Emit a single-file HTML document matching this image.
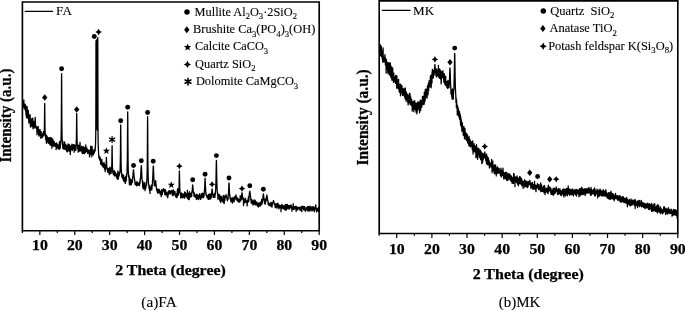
<!DOCTYPE html>
<html><head><meta charset="utf-8"><title>XRD patterns</title>
<style>html,body{margin:0;padding:0;background:#fff;}body{width:685px;height:310px;overflow:hidden;position:relative;font-family:"Liberation Serif",serif;}</style>
</head><body>
<svg width="685" height="310" viewBox="0 0 685 310" style="display:block;position:absolute;left:0;top:0">
<rect width="685" height="310" fill="#fff"/>
<path d="M22.4,230.7 L22.4,1.95 L319.2,1.95 L319.2,230.7 Z" fill="none" stroke="#000" stroke-width="1.65"/><path d="M22.40,230.7 v2.3 M39.86,230.7 v4.4 M57.32,230.7 v2.3 M74.78,230.7 v4.4 M92.24,230.7 v2.3 M109.69,230.7 v4.4 M127.15,230.7 v2.3 M144.61,230.7 v4.4 M162.07,230.7 v2.3 M179.53,230.7 v4.4 M196.99,230.7 v2.3 M214.45,230.7 v4.4 M231.91,230.7 v2.3 M249.36,230.7 v4.4 M266.82,230.7 v2.3 M284.28,230.7 v4.4 M301.74,230.7 v2.3 M319.20,230.7 v4.4 " stroke="#000" stroke-width="1.2" fill="none"/>
<path d="M379.2,233.5 L379.2,0.8 L677.8,0.8 L677.8,233.5 Z" fill="none" stroke="#000" stroke-width="1.65"/><path d="M379.20,233.5 v2.3 M396.76,233.5 v4.4 M414.33,233.5 v2.3 M431.89,233.5 v4.4 M449.46,233.5 v2.3 M467.02,233.5 v4.4 M484.59,233.5 v2.3 M502.15,233.5 v4.4 M519.72,233.5 v2.3 M537.28,233.5 v4.4 M554.85,233.5 v2.3 M572.41,233.5 v4.4 M589.98,233.5 v2.3 M607.54,233.5 v4.4 M625.11,233.5 v2.3 M642.67,233.5 v4.4 M660.24,233.5 v2.3 M677.80,233.5 v4.4 " stroke="#000" stroke-width="1.2" fill="none"/>
<path d="M22.70,107.32 22.86,101.29 23.03,103.19 23.19,104.73 23.36,101.57 23.52,104.34 23.69,104.75 23.85,99.95 24.02,108.60 24.18,107.77 24.35,104.54 24.51,106.30 24.68,108.71 24.84,106.85 25.01,107.31 25.17,104.15 25.33,110.48 25.50,109.62 25.66,110.46 25.83,105.57 25.99,115.31 26.16,111.32 26.32,110.15 26.49,117.65 26.65,112.00 26.82,108.31 26.98,111.80 27.15,106.73 27.31,116.91 27.47,113.06 27.64,112.54 27.80,118.25 27.97,110.75 28.13,117.52 28.30,110.38 28.46,114.85 28.63,113.67 28.79,121.77 28.96,123.01 29.12,117.30 29.29,121.02 29.45,118.39 29.62,120.86 29.78,117.34 29.94,114.87 30.11,114.87 30.27,121.42 30.44,127.02 30.60,121.59 30.77,119.55 30.93,126.76 31.10,122.20 31.26,122.03 31.43,122.68 31.59,121.80 31.76,121.50 31.92,118.50 32.08,124.22 32.25,122.73 32.41,126.58 32.58,122.35 32.74,118.20 32.91,123.51 33.07,128.75 33.24,123.11 33.40,121.92 33.57,121.35 33.73,122.01 33.90,124.11 34.06,122.39 34.23,127.86 34.39,124.61 34.55,125.10 34.70,126.02 34.72,125.97 34.88,123.37 34.90,123.53 35.04,121.06 35.05,120.38 35.13,117.45 35.20,117.57 35.21,117.73 35.27,118.56 35.36,120.64 35.38,121.48 35.50,123.67 35.54,124.37 35.70,127.07 35.71,127.35 35.87,127.44 36.04,127.94 36.20,128.71 36.37,127.70 36.53,127.83 36.69,126.59 36.86,128.39 37.02,134.83 37.19,131.39 37.35,128.34 37.52,128.23 37.68,127.39 37.85,131.02 38.01,131.29 38.18,126.50 38.34,132.01 38.51,129.35 38.67,135.01 38.84,131.76 39.00,136.22 39.16,130.50 39.33,131.17 39.49,132.96 39.66,135.20 39.82,134.06 39.99,129.38 40.15,133.39 40.32,133.14 40.48,132.10 40.65,131.69 40.81,138.30 40.98,132.73 41.14,131.68 41.31,135.82 41.47,134.63 41.63,134.24 41.80,136.68 41.96,136.05 42.13,135.86 42.29,137.60 42.46,135.93 42.62,133.70 42.79,134.49 42.95,134.21 43.12,136.12 43.28,133.12 43.45,131.66 43.61,135.70 43.77,133.04 43.94,132.09 44.10,134.08 44.20,131.91 44.27,131.66 44.40,126.66 44.43,124.62 44.54,116.31 44.60,110.47 44.63,107.32 44.70,103.47 44.76,106.77 44.77,106.94 44.86,117.16 44.93,122.19 45.00,127.40 45.09,131.51 45.20,134.40 45.26,135.96 45.42,133.89 45.59,138.00 45.75,139.64 45.92,139.87 46.08,136.06 46.24,139.41 46.41,143.24 46.57,135.11 46.74,140.27 46.90,142.08 47.07,137.62 47.23,141.06 47.40,136.97 47.56,137.78 47.73,137.91 47.89,140.64 48.06,140.06 48.22,142.87 48.38,138.16 48.55,140.36 48.71,143.28 48.88,142.39 49.04,137.72 49.21,142.92 49.37,140.14 49.54,142.46 49.70,142.37 49.87,144.82 50.03,142.15 50.20,137.28 50.36,138.63 50.53,144.05 50.69,141.66 50.85,145.30 51.02,143.22 51.18,140.75 51.35,145.46 51.51,140.81 51.68,137.78 51.84,148.21 52.01,138.34 52.17,144.82 52.34,145.67 52.50,143.78 52.67,139.30 52.83,146.13 53.00,140.09 53.16,140.43 53.32,142.96 53.49,145.91 53.65,144.78 53.82,146.13 53.98,143.10 54.15,143.86 54.31,141.55 54.48,143.66 54.64,145.99 54.81,143.86 54.97,145.86 55.14,143.35 55.30,143.38 55.46,145.02 55.63,144.52 55.79,146.54 55.96,145.60 56.12,149.51 56.29,144.79 56.45,144.85 56.62,142.94 56.78,145.62 56.95,147.31 57.11,143.91 57.28,145.67 57.44,147.61 57.61,145.62 57.77,144.73 57.93,148.41 58.10,146.34 58.26,147.11 58.43,149.03 58.59,148.99 58.76,145.41 58.92,144.99 59.09,146.95 59.25,145.93 59.42,141.67 59.58,149.18 59.75,146.11 59.91,147.61 60.07,143.15 60.24,148.12 60.40,143.90 60.57,144.20 60.73,141.35 60.90,141.38 61.06,137.96 61.10,136.81 61.23,130.92 61.30,124.49 61.39,112.15 61.44,101.98 61.53,81.07 61.56,76.68 61.60,73.61 61.67,81.91 61.72,93.58 61.76,101.50 61.89,123.21 61.90,125.32 62.05,135.18 62.10,136.69 62.22,140.56 62.38,142.12 62.54,145.17 62.71,145.01 62.87,148.37 63.04,147.06 63.20,144.67 63.37,147.89 63.53,148.85 63.70,145.47 63.86,145.90 64.03,141.54 64.19,149.22 64.36,145.75 64.52,142.16 64.68,143.05 64.85,146.77 65.01,149.14 65.18,147.16 65.34,148.52 65.51,144.82 65.67,144.28 65.84,149.58 66.00,148.67 66.17,147.46 66.33,150.58 66.50,145.33 66.66,146.60 66.83,150.03 66.99,151.96 67.15,147.66 67.32,151.62 67.48,146.25 67.65,148.47 67.81,147.29 67.98,143.98 68.14,148.34 68.31,149.94 68.47,147.41 68.64,147.61 68.80,151.06 68.97,144.86 69.13,144.29 69.30,146.29 69.46,145.02 69.62,151.00 69.79,148.58 69.95,145.84 70.12,146.44 70.28,154.59 70.45,146.47 70.61,146.13 70.78,148.64 70.94,149.43 71.11,148.47 71.27,145.84 71.44,145.27 71.60,149.37 71.76,147.87 71.93,144.18 72.09,150.75 72.26,149.83 72.42,147.48 72.59,147.44 72.75,148.60 72.92,146.47 73.08,144.94 73.25,148.83 73.41,144.75 73.58,149.00 73.74,144.75 73.91,147.87 74.07,147.78 74.23,152.22 74.40,145.62 74.56,144.81 74.73,146.56 74.89,145.47 75.06,146.63 75.22,148.71 75.39,149.20 75.55,150.44 75.72,145.99 75.88,150.03 76.05,147.63 76.20,143.61 76.21,141.84 76.37,138.95 76.40,137.88 76.54,126.38 76.54,127.27 76.63,117.31 76.70,113.28 76.70,113.79 76.77,117.76 76.86,127.11 76.87,128.31 77.00,137.62 77.03,139.04 77.20,143.99 77.20,144.37 77.36,145.32 77.53,144.03 77.69,148.46 77.86,145.08 78.02,148.44 78.19,152.10 78.35,148.51 78.52,146.03 78.68,145.48 78.84,151.53 79.01,148.91 79.17,150.26 79.34,151.21 79.50,149.04 79.67,148.51 79.83,147.10 80.00,142.28 80.16,145.91 80.33,149.27 80.49,149.08 80.66,150.46 80.82,149.30 80.99,150.00 81.15,151.48 81.31,147.72 81.48,149.13 81.64,146.17 81.81,152.09 81.97,150.02 82.14,151.09 82.30,153.53 82.47,152.53 82.63,149.99 82.80,151.96 82.96,146.97 83.13,151.25 83.29,150.63 83.45,146.69 83.62,153.44 83.78,148.86 83.95,152.05 84.11,149.60 84.28,152.84 84.44,153.61 84.61,148.82 84.77,147.28 84.94,150.49 85.10,152.75 85.27,150.04 85.43,149.54 85.60,152.07 85.76,144.79 85.92,149.56 86.09,147.98 86.25,151.81 86.42,149.53 86.58,148.72 86.75,150.48 86.91,148.02 87.08,151.33 87.24,149.87 87.41,150.59 87.57,149.88 87.74,153.57 87.90,151.32 88.06,152.79 88.23,152.73 88.39,149.89 88.56,153.01 88.72,152.56 88.89,152.52 89.05,150.97 89.22,150.95 89.38,153.70 89.55,156.86 89.71,150.18 89.88,153.27 90.04,151.30 90.21,153.91 90.37,153.18 90.53,154.60 90.70,146.07 90.86,150.98 91.03,150.16 91.19,152.16 91.36,150.82 91.52,151.04 91.69,154.01 91.85,156.74 92.02,146.29 92.18,151.88 92.35,153.28 92.51,152.61 92.67,151.83 92.84,149.60 93.00,150.49 93.17,154.16 93.33,154.90 93.50,152.69 93.66,150.58 93.83,152.54 93.99,151.70 94.16,153.24 94.32,152.12 94.49,150.36 94.65,151.61 94.82,148.74 94.98,151.34 95.14,150.64 95.31,146.61 95.47,145.66 95.64,140.00 95.75,132.95 95.80,125.37 95.85,113.99 95.92,82.31 95.97,52.44 95.97,50.73 96.00,40.69 96.03,51.50 96.08,79.71 96.13,104.36 96.15,109.57 96.25,125.31 96.30,128.02 96.46,128.86 96.63,121.98 96.65,120.33 96.75,104.10 96.79,89.83 96.82,75.47 96.87,49.47 96.90,39.49 96.94,49.28 96.96,61.58 96.98,75.78 97.05,104.18 97.12,117.60 97.15,120.59 97.29,128.60 97.45,130.50 97.55,126.17 97.61,118.04 97.65,109.68 97.72,78.42 97.77,48.67 97.78,42.31 97.80,37.75 97.83,49.99 97.88,81.08 97.94,112.75 97.95,115.04 98.05,134.39 98.11,140.80 98.27,147.05 98.44,150.25 98.60,153.38 98.77,156.55 98.93,157.81 99.10,155.69 99.26,157.84 99.43,158.31 99.59,159.69 99.75,159.64 99.92,157.54 100.08,157.28 100.25,160.76 100.41,158.20 100.58,164.04 100.74,161.53 100.91,159.57 101.07,161.40 101.24,161.31 101.40,162.42 101.57,165.02 101.73,160.18 101.90,159.55 102.06,164.55 102.22,163.71 102.39,164.70 102.55,165.55 102.72,164.45 102.88,166.78 103.05,163.39 103.21,165.66 103.38,163.96 103.54,163.52 103.71,167.43 103.87,167.51 104.04,162.35 104.20,164.26 104.36,167.39 104.53,169.14 104.69,165.71 104.86,166.82 105.02,164.68 105.19,171.65 105.35,168.14 105.52,168.56 105.68,167.96 105.85,167.65 105.90,167.13 106.01,165.77 106.10,165.24 106.18,163.41 106.24,161.97 106.33,158.07 106.34,157.81 106.40,157.30 106.47,158.83 106.51,159.75 106.56,161.49 106.67,164.75 106.70,165.13 106.83,168.20 106.90,168.13 107.00,169.08 107.16,168.87 107.33,168.14 107.49,170.98 107.66,172.22 107.82,170.61 107.99,169.64 108.15,172.00 108.32,169.20 108.48,171.67 108.65,168.73 108.81,168.30 108.98,171.61 109.14,171.24 109.30,174.61 109.47,170.16 109.63,170.88 109.80,168.56 109.96,167.15 110.13,167.44 110.29,172.07 110.46,168.88 110.62,173.31 110.79,173.68 110.95,170.64 111.12,173.26 111.28,170.85 111.44,170.95 111.60,168.43 111.61,169.13 111.77,164.59 111.80,164.43 111.94,156.05 111.94,156.07 112.03,148.81 112.10,145.77 112.10,145.71 112.17,148.92 112.26,156.58 112.27,156.44 112.40,164.75 112.43,165.98 112.60,168.62 112.60,169.44 112.76,169.49 112.93,173.27 113.09,171.77 113.26,172.34 113.42,174.83 113.59,172.69 113.75,174.29 113.91,171.21 114.08,172.28 114.24,170.73 114.41,173.26 114.57,175.90 114.74,174.36 114.90,175.81 115.07,172.01 115.23,172.41 115.40,173.35 115.56,175.56 115.73,175.21 115.89,174.55 116.05,175.93 116.22,174.45 116.38,174.80 116.55,177.57 116.71,173.82 116.88,175.46 117.04,178.43 117.21,175.44 117.37,176.73 117.54,174.15 117.70,179.38 117.87,170.95 118.03,173.24 118.20,173.44 118.36,178.83 118.52,176.29 118.69,175.04 118.85,173.01 119.02,176.11 119.18,175.47 119.35,173.81 119.51,172.24 119.68,172.42 119.84,173.18 120.01,171.39 120.08,170.00 120.17,167.55 120.33,160.28 120.34,160.59 120.50,145.16 120.50,145.51 120.61,131.06 120.66,126.05 120.70,124.96 120.79,131.32 120.83,136.51 120.90,145.52 120.99,154.43 121.08,161.59 121.16,166.16 121.32,171.53 121.33,170.03 121.49,172.42 121.65,174.03 121.82,176.84 121.98,174.27 122.15,176.51 122.31,175.35 122.48,177.89 122.64,174.58 122.81,178.56 122.97,177.01 123.13,177.70 123.30,179.33 123.46,180.68 123.63,175.14 123.79,180.61 123.96,179.82 124.12,178.21 124.29,181.66 124.45,179.31 124.62,181.56 124.78,177.86 124.95,177.35 125.11,181.51 125.28,183.37 125.44,180.32 125.60,180.77 125.77,178.02 125.93,176.28 126.10,178.19 126.26,180.95 126.43,174.78 126.59,176.41 126.76,173.57 126.92,174.30 127.08,171.92 127.09,169.86 127.25,164.19 127.33,160.23 127.42,150.68 127.50,138.26 127.58,124.24 127.61,118.67 127.70,112.01 127.74,113.73 127.79,119.70 127.90,139.20 127.91,140.19 128.07,159.54 128.07,160.28 128.24,169.09 128.32,171.97 128.40,171.99 128.57,177.15 128.73,176.40 128.90,175.06 129.06,178.27 129.23,180.60 129.39,184.15 129.56,179.80 129.72,178.17 129.89,185.11 130.05,181.43 130.21,180.73 130.38,179.24 130.54,179.47 130.71,184.42 130.87,181.02 131.04,180.52 131.20,180.58 131.37,184.61 131.53,180.35 131.70,182.57 131.86,181.71 132.00,181.44 132.03,179.42 132.19,181.72 132.35,182.56 132.52,179.35 132.60,177.85 132.68,176.98 132.85,177.15 133.01,174.89 133.02,174.91 133.18,172.75 133.29,170.67 133.34,170.87 133.50,169.85 133.51,169.77 133.67,170.99 133.71,171.73 133.84,173.27 133.98,174.86 134.00,176.47 134.17,177.33 134.33,178.42 134.40,177.85 134.50,180.37 134.66,179.60 134.82,180.95 134.99,183.10 135.00,182.39 135.15,184.56 135.32,183.57 135.48,182.47 135.65,182.82 135.81,182.65 135.98,185.05 136.14,183.97 136.31,183.25 136.47,185.80 136.64,184.43 136.80,183.42 136.97,181.45 137.13,185.32 137.29,184.98 137.46,184.66 137.62,183.75 137.79,183.00 137.95,184.20 138.12,185.10 138.28,184.39 138.45,184.33 138.61,183.66 138.78,185.17 138.94,184.88 139.11,182.85 139.27,185.59 139.43,185.41 139.60,185.13 139.76,183.00 139.80,182.79 139.93,180.74 140.09,183.15 140.26,178.03 140.40,179.35 140.42,179.20 140.59,178.47 140.75,175.02 140.82,173.10 140.92,170.93 141.08,167.88 141.09,168.02 141.25,165.96 141.30,165.73 141.41,166.29 141.51,168.03 141.58,169.87 141.74,172.50 141.78,174.01 141.90,177.65 142.07,179.41 142.20,179.79 142.23,181.49 142.40,180.92 142.56,183.00 142.73,186.40 142.80,187.33 142.89,181.23 143.06,186.05 143.22,188.80 143.39,184.37 143.55,186.14 143.72,188.75 143.88,185.07 144.04,187.03 144.21,186.17 144.37,182.67 144.54,187.13 144.70,186.17 144.87,188.36 145.03,190.62 145.20,187.92 145.36,185.88 145.53,187.39 145.69,186.83 145.86,188.19 146.02,183.51 146.19,183.76 146.35,182.02 146.51,185.33 146.68,183.22 146.84,180.54 146.97,177.82 147.01,177.01 147.17,169.55 147.22,166.18 147.34,154.09 147.40,145.21 147.50,126.34 147.51,124.35 147.60,116.62 147.67,122.00 147.69,124.80 147.80,145.00 147.83,150.34 147.97,167.45 148.00,167.69 148.16,176.39 148.22,177.53 148.33,181.74 148.49,183.25 148.65,184.26 148.82,184.98 148.98,187.99 149.15,187.07 149.31,186.71 149.48,190.29 149.64,186.19 149.81,185.93 149.97,193.40 150.14,187.84 150.30,187.57 150.47,187.25 150.63,188.37 150.80,190.09 150.96,189.96 151.12,189.45 151.29,187.74 151.45,185.27 151.62,188.23 151.78,189.95 151.93,188.59 151.95,186.44 152.11,187.13 152.28,184.28 152.44,183.14 152.48,181.47 152.61,180.63 152.77,177.78 152.86,175.41 152.94,173.80 153.10,169.50 153.11,169.12 153.27,166.01 153.30,165.79 153.43,167.04 153.49,168.27 153.59,171.33 153.74,175.55 153.76,175.91 153.92,179.52 154.09,182.03 154.10,181.90 154.12,181.59 154.25,185.39 154.42,185.73 154.58,184.05 154.68,184.18 154.70,184.53 154.75,185.15 154.91,185.80 155.08,184.57 155.12,184.26 155.24,183.20 155.39,181.90 155.41,181.65 155.57,180.91 155.60,180.76 155.73,180.87 155.81,182.02 155.90,183.77 156.06,184.48 156.08,184.58 156.23,187.16 156.39,187.60 156.50,187.55 156.56,190.34 156.72,189.95 156.89,190.75 157.05,188.98 157.10,190.89 157.22,190.91 157.38,191.91 157.55,192.83 157.71,192.98 157.88,191.34 158.04,192.45 158.20,189.11 158.37,192.58 158.53,192.75 158.70,190.81 158.86,190.16 159.03,191.57 159.19,189.46 159.36,192.44 159.52,192.41 159.69,190.12 159.85,192.04 160.02,194.00 160.18,194.03 160.34,193.97 160.51,191.83 160.67,191.50 160.84,191.43 161.00,193.30 161.17,196.60 161.33,194.83 161.50,195.14 161.66,194.67 161.83,189.32 161.99,191.81 162.16,191.40 162.25,193.97 162.32,194.50 162.49,191.00 162.65,191.69 162.75,192.00 162.81,190.88 162.98,190.39 163.10,189.95 163.14,190.51 163.31,188.97 163.32,189.58 163.47,188.83 163.50,189.01 163.64,189.58 163.68,189.04 163.80,189.58 163.90,190.65 163.97,190.14 164.13,190.79 164.25,191.60 164.30,191.98 164.46,190.58 164.63,191.80 164.75,193.36 164.79,194.60 164.96,189.35 165.12,195.01 165.28,194.39 165.45,190.89 165.61,190.22 165.78,193.75 165.94,192.25 166.11,193.32 166.27,194.70 166.44,192.45 166.60,193.47 166.77,194.08 166.93,194.87 167.10,196.51 167.26,196.42 167.42,193.74 167.59,192.88 167.75,197.73 167.92,194.54 168.08,194.16 168.25,191.36 168.41,194.84 168.58,191.98 168.74,192.58 168.91,190.97 169.07,192.48 169.24,193.55 169.40,190.70 169.57,191.81 169.73,193.24 169.89,191.22 169.90,191.24 170.06,191.96 170.22,191.15 170.39,193.84 170.50,191.80 170.55,193.70 170.72,193.40 170.88,191.47 170.92,192.16 171.05,191.56 171.19,190.99 171.21,191.21 171.38,191.03 171.40,191.29 171.54,191.58 171.61,191.06 171.71,191.55 171.87,192.55 171.88,192.97 172.03,190.74 172.20,194.32 172.30,192.99 172.36,195.15 172.53,192.87 172.69,192.33 172.86,193.80 172.90,195.70 173.02,193.87 173.19,189.72 173.35,195.19 173.52,191.09 173.68,192.28 173.85,191.98 174.01,190.78 174.18,191.89 174.34,192.41 174.50,193.13 174.67,194.18 174.83,193.70 175.00,191.62 175.16,194.03 175.33,196.17 175.49,196.14 175.66,194.67 175.82,195.58 175.99,196.09 176.15,196.97 176.32,197.59 176.48,193.91 176.64,194.00 176.81,197.19 176.97,197.34 177.14,197.28 177.30,190.23 177.47,194.04 177.63,188.66 177.80,195.55 177.96,194.28 178.13,194.11 178.29,193.59 178.46,194.94 178.62,192.46 178.78,192.49 178.79,192.02 178.95,189.56 179.03,187.86 179.11,184.64 179.20,180.01 179.28,175.75 179.31,173.82 179.40,170.96 179.44,171.93 179.49,173.90 179.60,180.01 179.61,180.87 179.77,187.48 179.78,187.31 179.94,191.11 180.03,191.21 180.10,192.11 180.27,193.64 180.43,194.35 180.60,194.72 180.76,198.01 180.93,193.84 181.09,195.24 181.26,192.79 181.42,195.86 181.58,197.14 181.75,197.32 181.91,194.03 182.08,194.72 182.24,197.55 182.41,195.14 182.57,197.08 182.74,193.62 182.90,197.90 183.07,197.28 183.23,196.29 183.40,194.04 183.56,195.21 183.72,195.79 183.89,196.02 184.05,195.37 184.22,195.18 184.38,195.94 184.55,198.12 184.71,192.01 184.88,193.17 185.04,192.87 185.21,194.43 185.37,192.55 185.54,196.68 185.70,195.87 185.87,195.26 186.03,194.50 186.19,196.01 186.36,196.06 186.52,196.34 186.69,194.45 186.85,196.93 187.02,193.14 187.18,198.02 187.35,190.27 187.51,194.72 187.68,193.64 187.84,197.21 188.01,193.14 188.17,199.05 188.33,193.03 188.50,199.42 188.66,196.59 188.83,195.84 188.99,196.55 189.16,199.68 189.32,197.35 189.49,191.75 189.65,197.85 189.82,196.10 189.98,192.78 190.15,196.97 190.31,193.42 190.48,195.83 190.64,195.84 190.80,194.20 190.97,196.31 191.13,193.35 191.30,195.11 191.45,193.73 191.46,194.24 191.63,196.58 191.79,193.59 191.95,191.63 191.96,192.47 192.12,190.73 192.29,189.41 192.30,189.29 192.45,187.07 192.52,186.06 192.62,184.96 192.70,184.92 192.78,185.38 192.88,185.85 192.95,186.99 193.10,189.27 193.11,190.00 193.27,192.02 193.44,191.96 193.45,192.76 193.60,191.87 193.77,192.91 193.93,194.62 193.95,195.55 194.10,196.41 194.26,194.65 194.43,193.05 194.59,196.17 194.76,195.30 194.92,196.44 195.09,196.05 195.25,197.10 195.41,197.04 195.58,197.42 195.74,195.17 195.91,197.77 196.07,195.16 196.24,196.22 196.40,199.37 196.57,196.75 196.73,194.09 196.90,198.78 197.06,197.94 197.23,198.20 197.39,196.56 197.56,196.83 197.72,195.83 197.88,195.02 198.05,198.95 198.21,195.63 198.38,195.44 198.54,195.52 198.71,199.58 198.87,197.86 199.04,195.68 199.20,196.26 199.37,197.24 199.53,197.89 199.70,193.54 199.86,197.95 200.02,195.99 200.19,195.18 200.35,195.70 200.52,197.77 200.68,199.46 200.85,196.65 201.01,197.36 201.18,194.97 201.34,197.24 201.51,197.81 201.67,193.77 201.84,195.46 202.00,197.72 202.17,193.26 202.33,195.64 202.49,197.30 202.66,193.28 202.82,195.47 202.99,196.18 203.15,197.50 203.32,193.72 203.48,197.50 203.65,195.95 203.81,196.91 203.98,196.27 204.10,194.68 204.14,194.65 204.31,191.47 204.47,190.57 204.50,190.50 204.63,188.88 204.78,186.08 204.80,184.48 204.96,180.49 204.96,180.10 205.10,178.19 205.13,179.08 205.24,180.63 205.29,182.59 205.42,186.23 205.46,186.36 205.62,189.03 205.70,192.75 205.79,191.97 205.95,192.48 206.10,195.25 206.12,194.66 206.28,194.17 206.45,194.98 206.61,196.04 206.78,196.13 206.94,197.44 207.10,195.71 207.27,195.84 207.43,197.54 207.60,197.12 207.76,198.52 207.93,196.27 208.09,196.57 208.26,194.79 208.42,199.38 208.59,194.45 208.75,197.20 208.92,195.35 209.08,197.46 209.25,198.17 209.41,194.10 209.57,196.53 209.74,193.89 209.90,199.25 210.07,196.09 210.23,194.18 210.40,195.60 210.56,198.72 210.73,198.75 210.89,198.11 211.06,195.18 211.10,195.87 211.22,197.45 211.39,194.58 211.50,194.36 211.55,193.66 211.71,192.24 211.78,192.46 211.88,190.83 211.96,189.67 212.04,188.92 212.10,188.86 212.21,189.60 212.24,189.54 212.37,191.22 212.42,191.56 212.54,193.84 212.70,194.20 212.70,193.53 212.87,195.11 213.03,195.85 213.10,196.93 213.20,197.38 213.36,195.28 213.53,195.20 213.69,195.93 213.86,194.49 214.02,196.23 214.18,197.10 214.35,196.27 214.51,193.36 214.68,193.83 214.84,197.40 215.01,193.40 215.17,195.20 215.34,193.94 215.40,192.29 215.50,190.61 215.67,189.47 215.80,185.76 215.83,185.40 216.00,179.44 216.08,174.80 216.16,170.30 216.26,164.48 216.32,161.44 216.40,160.45 216.49,162.13 216.54,164.10 216.65,171.21 216.72,175.07 216.82,179.89 216.98,184.73 217.00,187.08 217.15,190.37 217.31,192.78 217.40,193.35 217.48,192.07 217.64,194.83 217.81,194.03 217.97,199.34 218.14,195.53 218.30,197.78 218.47,194.38 218.63,195.19 218.79,196.43 218.96,198.64 219.12,198.51 219.29,198.18 219.45,194.71 219.62,199.77 219.78,196.42 219.95,200.71 220.11,201.19 220.28,199.52 220.44,199.84 220.61,196.15 220.77,202.58 220.94,198.69 221.10,200.03 221.26,196.98 221.43,198.33 221.59,196.51 221.76,198.11 221.92,198.56 222.09,198.99 222.25,200.90 222.42,199.41 222.58,199.04 222.75,198.72 222.91,201.99 223.08,197.73 223.24,200.65 223.40,195.47 223.57,197.26 223.73,199.38 223.90,198.43 224.06,203.53 224.23,202.74 224.39,196.27 224.56,196.97 224.72,198.26 224.75,200.78 224.89,199.72 225.05,198.47 225.22,196.57 225.25,197.03 225.38,195.53 225.55,195.96 225.60,196.66 225.71,196.16 225.82,194.90 225.87,195.09 226.00,195.20 226.04,194.86 226.18,195.17 226.20,195.58 226.37,196.49 226.40,196.47 226.53,196.70 226.70,197.19 226.75,197.72 226.86,197.32 227.03,199.54 227.19,199.23 227.25,199.52 227.36,200.81 227.52,200.15 227.69,199.70 227.85,197.97 228.00,196.86 228.01,199.52 228.18,195.60 228.34,194.48 228.40,193.76 228.51,192.94 228.67,189.63 228.68,189.70 228.84,185.08 228.86,184.14 229.00,182.88 229.00,183.04 229.14,184.67 229.17,185.30 229.32,189.65 229.33,190.29 229.50,193.07 229.60,193.63 229.66,194.84 229.83,196.43 229.99,195.46 230.00,198.34 230.16,197.06 230.32,199.13 230.48,199.02 230.65,198.48 230.81,201.68 230.98,198.37 231.14,198.29 231.31,199.93 231.47,200.89 231.64,199.60 231.80,198.07 231.97,200.82 232.13,200.72 232.30,203.12 232.46,199.45 232.62,200.18 232.79,198.94 232.95,197.48 233.12,200.00 233.28,201.26 233.45,198.27 233.61,198.81 233.78,198.01 233.94,201.99 234.11,198.85 234.27,200.69 234.44,198.45 234.60,199.76 234.75,198.72 234.77,196.46 234.93,199.44 235.09,199.62 235.25,197.01 235.26,198.56 235.42,197.86 235.59,196.82 235.60,197.13 235.75,195.65 235.82,195.91 235.92,195.72 236.00,195.00 236.08,195.42 236.18,196.26 236.25,196.35 236.40,197.07 236.41,196.96 236.58,198.34 236.74,198.72 236.75,199.37 236.91,197.72 237.07,200.77 237.24,199.20 237.25,200.58 237.40,198.86 237.56,198.07 237.73,199.21 237.89,198.66 238.06,199.60 238.22,201.25 238.39,201.97 238.55,200.61 238.72,199.45 238.88,199.60 239.05,201.25 239.21,202.11 239.38,199.79 239.54,200.08 239.70,199.06 239.87,200.52 240.03,201.61 240.20,195.61 240.36,200.30 240.50,199.00 240.53,196.44 240.69,199.95 240.86,199.12 241.02,199.19 241.10,197.20 241.19,200.09 241.35,197.44 241.52,196.07 241.52,196.99 241.68,195.13 241.79,194.27 241.85,193.98 242.00,192.71 242.01,193.60 242.17,193.75 242.21,194.18 242.34,195.53 242.48,196.01 242.50,196.73 242.67,198.25 242.83,198.52 242.90,199.32 243.00,197.46 243.16,198.20 243.33,198.47 243.49,200.80 243.50,205.61 243.66,200.87 243.82,200.43 243.99,200.69 244.15,202.42 244.31,202.11 244.48,199.30 244.64,202.74 244.81,201.18 244.97,202.55 245.14,198.21 245.30,198.94 245.47,202.33 245.63,198.63 245.80,202.06 245.96,202.00 246.13,201.72 246.29,202.05 246.46,201.91 246.62,202.19 246.78,200.85 246.95,201.42 247.11,205.95 247.28,203.12 247.44,202.23 247.61,201.80 247.77,199.96 247.94,201.24 248.05,200.40 248.10,202.08 248.27,199.11 248.43,196.87 248.60,198.85 248.75,199.71 248.76,201.58 248.93,198.97 249.09,196.12 249.24,195.39 249.25,194.84 249.42,193.60 249.56,192.04 249.58,191.59 249.75,191.26 249.80,191.14 249.91,191.38 250.05,192.53 250.08,193.40 250.24,194.57 250.36,195.54 250.41,196.77 250.57,196.31 250.74,199.51 250.85,198.52 250.90,198.68 251.07,200.41 251.23,203.06 251.39,200.12 251.55,202.89 251.56,202.07 251.72,199.69 251.89,203.38 252.05,200.92 252.22,200.10 252.38,201.26 252.55,201.48 252.71,203.60 252.88,201.67 253.04,205.15 253.21,203.29 253.37,201.93 253.54,201.82 253.70,203.49 253.86,200.12 254.03,199.95 254.19,201.96 254.36,204.31 254.52,203.67 254.69,203.47 254.85,203.16 255.02,200.22 255.18,203.06 255.35,200.90 255.51,204.88 255.68,203.64 255.84,203.54 256.00,204.31 256.17,204.22 256.33,204.11 256.50,204.31 256.66,202.92 256.83,201.82 256.99,204.36 257.16,206.05 257.32,205.41 257.49,203.58 257.65,204.84 257.82,203.28 257.98,204.53 258.15,203.05 258.31,204.19 258.47,206.99 258.64,205.15 258.80,206.25 258.97,202.85 259.13,202.99 259.30,203.96 259.46,204.85 259.63,203.70 259.79,205.52 259.96,203.17 260.12,206.01 260.29,205.40 260.45,202.27 260.61,204.76 260.78,203.52 260.94,205.31 261.11,202.93 261.27,204.10 261.44,204.32 261.60,199.43 261.77,200.57 261.90,203.19 261.93,202.79 262.10,203.91 262.26,202.47 262.43,200.36 262.50,201.60 262.59,200.19 262.76,199.55 262.92,197.96 262.92,198.38 263.08,195.94 263.19,195.02 263.25,194.26 263.40,194.67 263.41,193.98 263.58,194.78 263.61,194.97 263.74,196.43 263.88,197.89 263.91,198.69 264.07,199.87 264.24,201.04 264.30,200.52 264.40,201.39 264.57,203.35 264.73,202.24 264.90,202.86 264.90,199.78 265.06,203.23 265.15,202.89 265.23,204.26 265.39,198.78 265.55,202.23 265.72,201.72 265.85,201.57 265.88,200.72 266.05,200.85 266.21,200.22 266.34,198.85 266.38,198.38 266.54,197.08 266.65,196.15 266.71,195.92 266.87,195.15 266.90,194.86 267.04,196.00 267.14,195.88 267.20,196.80 267.37,197.70 267.46,198.96 267.53,199.07 267.69,200.76 267.86,200.86 267.95,200.70 268.02,202.68 268.19,204.48 268.35,203.69 268.52,203.70 268.65,202.28 268.68,203.68 268.85,204.64 269.01,203.22 269.18,205.60 269.34,204.35 269.51,205.02 269.67,203.87 269.84,203.95 270.00,205.03 270.16,205.32 270.33,205.31 270.49,203.36 270.66,203.79 270.82,204.84 270.99,202.19 271.15,206.38 271.32,205.31 271.48,204.88 271.65,203.77 271.75,205.87 271.81,204.32 271.98,207.11 272.14,204.95 272.30,202.55 272.45,204.79 272.47,203.46 272.63,203.19 272.80,202.99 272.94,202.56 272.96,202.67 273.13,202.11 273.25,201.42 273.29,200.96 273.46,200.50 273.50,200.61 273.62,201.04 273.75,201.62 273.79,202.11 273.95,201.73 274.06,202.86 274.12,202.92 274.28,203.35 274.45,204.27 274.55,204.12 274.61,204.21 274.77,204.01 274.94,205.51 275.10,206.60 275.25,207.56 275.27,204.60 275.43,203.96 275.60,205.17 275.76,204.44 275.93,207.18 276.09,204.60 276.26,205.94 276.42,203.96 276.59,205.43 276.75,206.25 276.92,208.20 277.08,205.06 277.24,206.62 277.41,203.15 277.57,204.43 277.74,205.02 277.90,205.50 278.07,206.85 278.23,207.16 278.40,203.99 278.56,207.06 278.73,204.74 278.89,208.96 279.06,206.82 279.22,206.61 279.38,206.16 279.55,206.38 279.71,206.46 279.88,205.49 280.04,207.55 280.21,206.89 280.37,207.59 280.54,206.46 280.70,207.53 280.87,205.51 281.03,211.65 281.20,205.61 281.36,206.00 281.53,208.01 281.69,208.41 281.85,205.55 282.02,204.34 282.18,204.73 282.35,205.32 282.51,205.63 282.68,206.52 282.84,208.22 283.01,208.31 283.17,205.94 283.34,207.58 283.50,208.07 283.67,208.82 283.83,206.63 283.99,205.83 284.16,207.94 284.32,209.03 284.49,206.18 284.65,209.67 284.82,209.36 284.98,206.59 285.15,204.77 285.31,206.15 285.48,206.50 285.64,207.76 285.81,204.68 285.97,210.45 286.14,210.33 286.30,206.05 286.46,204.47 286.63,206.86 286.79,207.70 286.96,209.00 287.12,208.13 287.29,206.86 287.45,204.41 287.62,207.89 287.78,208.36 287.95,206.77 288.11,207.60 288.28,207.51 288.44,206.90 288.60,205.64 288.77,207.74 288.93,205.30 289.10,209.24 289.26,206.05 289.43,208.00 289.59,206.32 289.76,207.87 289.92,207.07 290.09,208.11 290.25,206.29 290.42,205.14 290.58,207.02 290.75,206.94 290.91,205.35 291.07,206.50 291.24,205.15 291.40,207.64 291.57,206.98 291.73,207.53 291.90,211.13 292.06,207.76 292.23,208.07 292.39,208.44 292.56,207.39 292.72,206.78 292.89,208.83 293.05,209.05 293.22,203.62 293.38,207.43 293.54,207.20 293.71,206.91 293.87,209.41 294.04,206.98 294.20,208.92 294.37,206.99 294.53,207.19 294.70,208.77 294.86,206.77 295.03,207.57 295.19,206.29 295.36,206.61 295.52,208.83 295.68,208.65 295.85,206.30 296.01,206.26 296.18,211.38 296.34,207.02 296.51,206.73 296.67,208.63 296.84,206.88 297.00,207.46 297.17,209.19 297.33,209.35 297.50,207.73 297.66,209.84 297.83,207.82 297.99,207.71 298.15,208.04 298.32,207.64 298.48,208.79 298.65,208.47 298.81,207.04 298.98,208.35 299.14,207.38 299.31,207.34 299.47,207.95 299.64,209.53 299.80,208.54 299.97,209.89 300.13,210.30 300.29,208.14 300.46,207.38 300.62,207.14 300.79,208.60 300.95,209.41 301.12,210.39 301.28,206.48 301.45,209.51 301.61,209.73 301.78,211.59 301.94,208.55 302.11,208.26 302.27,206.26 302.44,207.28 302.60,206.85 302.76,206.98 302.93,207.14 303.09,206.30 303.26,208.26 303.42,208.91 303.59,209.43 303.75,208.28 303.92,209.85 304.08,209.87 304.25,206.40 304.41,208.08 304.58,206.78 304.74,207.15 304.91,208.73 305.07,208.32 305.23,210.47 305.40,211.26 305.56,209.08 305.73,208.27 305.89,208.34 306.06,208.53 306.22,209.32 306.39,207.58 306.55,209.35 306.72,208.25 306.88,210.00 307.05,210.42 307.21,210.93 307.37,208.40 307.54,206.81 307.70,206.38 307.87,208.24 308.03,206.75 308.20,206.45 308.36,208.19 308.53,207.35 308.69,209.59 308.86,211.26 309.02,208.38 309.19,209.11 309.35,206.60 309.52,208.95 309.68,207.78 309.84,207.25 310.01,206.25 310.17,210.85 310.34,206.59 310.50,207.13 310.67,208.76 310.83,209.13 311.00,209.14 311.16,208.90 311.33,207.58 311.49,209.79 311.66,209.03 311.82,206.86 311.98,210.91 312.15,208.34 312.31,210.05 312.48,206.88 312.64,207.23 312.81,208.05 312.97,207.90 313.14,210.16 313.30,206.68 313.47,209.05 313.63,207.50 313.80,209.52 313.96,209.12 314.13,208.12 314.29,211.78 314.45,208.80 314.62,210.31 314.78,207.12 314.95,208.71 315.11,208.99 315.28,209.06 315.44,208.43 315.61,207.80 315.77,204.83 315.94,208.15 316.10,207.70 316.27,208.57 316.43,210.03 316.59,211.82 316.76,209.61 316.92,210.25 317.09,209.75 317.25,209.88 317.42,209.70 317.58,208.59 317.75,208.51 317.91,209.37 318.08,211.30 318.24,209.97 318.41,211.05 318.57,207.27 318.74,209.31 318.90,209.48" fill="none" stroke="#000" stroke-width="1.3" stroke-linejoin="round"/>
<path d="M379.50,49.05 379.60,47.22 379.70,44.83 379.80,51.03 379.90,50.53 380.00,44.92 380.10,47.56 380.20,45.27 380.29,44.96 380.39,55.75 380.49,48.88 380.59,52.62 380.69,51.73 380.79,51.13 380.89,47.68 380.99,48.06 381.09,53.23 381.19,55.80 381.29,46.03 381.39,49.32 381.49,52.05 381.59,56.50 381.69,55.03 381.79,56.18 381.88,54.49 381.98,50.69 382.08,53.67 382.18,58.61 382.28,55.15 382.38,50.66 382.48,59.76 382.58,56.74 382.68,57.86 382.78,62.24 382.88,53.98 382.98,53.74 383.08,47.81 383.18,56.92 383.28,58.67 383.38,56.75 383.47,57.07 383.57,60.37 383.67,58.83 383.77,59.00 383.87,57.58 383.97,57.86 384.07,61.70 384.17,58.09 384.27,57.20 384.37,56.96 384.47,58.60 384.57,59.84 384.67,61.12 384.77,60.05 384.87,58.71 384.97,54.57 385.06,62.30 385.16,57.12 385.26,60.11 385.36,64.84 385.46,61.90 385.56,58.56 385.66,63.83 385.76,60.79 385.86,60.29 385.96,66.25 386.06,64.56 386.16,73.13 386.26,59.13 386.36,62.96 386.46,64.59 386.56,67.76 386.65,62.71 386.75,69.05 386.85,64.53 386.95,61.81 387.05,63.93 387.15,64.52 387.25,64.45 387.35,63.12 387.45,64.60 387.55,68.75 387.65,68.65 387.75,72.21 387.85,63.37 387.95,62.86 388.05,73.53 388.14,68.02 388.24,68.27 388.34,64.31 388.44,68.66 388.54,67.74 388.64,67.83 388.74,71.86 388.84,65.47 388.94,68.85 389.04,62.72 389.14,70.13 389.24,65.22 389.34,75.02 389.44,64.80 389.54,74.79 389.64,66.87 389.73,64.51 389.83,70.72 389.93,70.94 390.03,67.24 390.13,66.40 390.23,62.88 390.33,69.84 390.43,72.26 390.53,64.65 390.63,71.94 390.73,76.97 390.83,66.10 390.93,73.94 391.03,74.07 391.13,70.44 391.23,73.71 391.32,69.22 391.42,74.50 391.52,78.52 391.62,72.28 391.72,71.55 391.82,67.18 391.92,80.09 392.02,80.28 392.12,72.70 392.22,74.82 392.32,74.40 392.42,79.34 392.52,69.95 392.62,77.47 392.72,68.08 392.82,77.76 392.91,73.38 393.01,80.26 393.11,77.97 393.21,74.36 393.31,74.13 393.41,72.82 393.51,82.38 393.61,80.55 393.71,75.28 393.81,73.09 393.91,79.22 394.01,77.83 394.11,76.39 394.21,78.52 394.31,80.48 394.40,78.40 394.50,80.69 394.60,78.83 394.70,79.89 394.80,77.42 394.90,81.93 395.00,80.03 395.10,78.71 395.20,80.48 395.30,79.28 395.40,79.59 395.50,82.08 395.60,83.37 395.70,75.43 395.80,80.26 395.90,81.31 395.99,77.59 396.09,82.79 396.19,80.77 396.29,79.97 396.39,76.16 396.49,77.38 396.59,82.51 396.69,88.15 396.79,81.19 396.89,75.93 396.99,86.85 397.09,83.58 397.19,86.96 397.29,81.32 397.39,86.28 397.49,84.79 397.58,79.80 397.68,82.84 397.78,84.54 397.88,81.48 397.98,88.30 398.08,83.33 398.18,87.62 398.28,84.15 398.38,87.17 398.48,87.06 398.58,79.28 398.68,84.76 398.78,88.06 398.88,84.78 398.98,90.88 399.08,90.35 399.17,83.85 399.27,87.07 399.37,88.44 399.47,84.67 399.57,92.32 399.67,89.68 399.77,87.56 399.87,84.92 399.97,84.84 400.07,85.34 400.17,90.38 400.27,85.25 400.37,91.01 400.47,95.74 400.57,84.14 400.67,86.53 400.76,92.28 400.86,89.76 400.96,86.22 401.06,88.92 401.16,89.13 401.26,91.75 401.36,86.75 401.46,88.80 401.56,89.36 401.66,91.06 401.76,89.36 401.86,85.51 401.96,86.15 402.06,94.34 402.16,89.07 402.25,91.07 402.35,90.96 402.45,92.20 402.55,95.46 402.65,91.40 402.75,93.94 402.85,93.18 402.95,92.51 403.05,88.31 403.15,90.53 403.25,95.02 403.35,91.21 403.45,91.23 403.55,91.58 403.65,88.79 403.75,90.12 403.84,93.48 403.94,90.19 404.04,89.09 404.14,95.51 404.24,95.95 404.34,93.30 404.44,90.48 404.54,96.87 404.64,95.22 404.74,89.06 404.84,91.16 404.94,89.71 405.04,87.90 405.14,98.51 405.24,99.13 405.34,88.08 405.43,96.56 405.53,94.45 405.63,95.90 405.73,97.76 405.83,97.97 405.93,95.44 406.03,93.81 406.13,97.68 406.23,101.38 406.33,91.95 406.43,93.74 406.53,95.66 406.63,93.67 406.73,95.25 406.83,99.46 406.93,97.98 407.02,96.39 407.12,96.98 407.22,94.85 407.32,99.68 407.42,95.85 407.52,94.17 407.62,96.02 407.72,97.82 407.82,102.60 407.92,97.97 408.02,96.92 408.12,105.01 408.22,98.43 408.32,102.73 408.42,100.27 408.52,100.98 408.61,95.58 408.71,100.31 408.81,97.81 408.91,95.95 409.01,100.69 409.11,99.10 409.21,100.09 409.31,102.94 409.41,93.11 409.51,100.97 409.61,95.35 409.71,95.04 409.81,100.31 409.91,98.98 410.01,93.55 410.10,100.33 410.20,101.29 410.30,104.66 410.40,104.14 410.50,100.98 410.60,96.53 410.70,100.77 410.80,102.84 410.90,103.73 411.00,104.70 411.10,102.46 411.20,103.37 411.30,100.69 411.40,101.39 411.50,104.23 411.60,105.52 411.69,99.21 411.79,101.60 411.89,102.47 411.99,105.25 412.09,103.46 412.19,111.06 412.29,104.24 412.39,101.71 412.49,103.40 412.59,102.52 412.69,103.81 412.79,105.28 412.89,108.90 412.99,108.77 413.09,106.38 413.19,101.59 413.28,106.31 413.38,102.56 413.48,104.72 413.58,106.54 413.68,105.10 413.78,111.63 413.88,105.46 413.98,104.43 414.08,104.81 414.18,108.46 414.28,100.78 414.38,104.33 414.48,102.42 414.58,104.99 414.68,100.61 414.78,105.05 414.87,108.71 414.97,103.77 415.07,109.37 415.17,104.09 415.27,105.72 415.37,102.81 415.47,108.01 415.57,107.90 415.67,106.97 415.77,109.33 415.87,105.20 415.97,112.13 416.07,107.23 416.17,104.34 416.27,105.90 416.36,106.62 416.46,103.21 416.56,103.60 416.66,111.67 416.76,108.34 416.86,109.82 416.96,113.96 417.06,109.00 417.16,104.60 417.26,109.50 417.36,104.85 417.46,110.47 417.56,108.92 417.66,110.44 417.76,104.46 417.86,101.70 417.95,107.92 418.05,109.19 418.15,107.09 418.25,105.75 418.35,105.79 418.45,105.58 418.55,108.52 418.65,102.58 418.75,105.88 418.85,108.51 418.95,106.61 419.05,105.12 419.15,105.30 419.25,107.75 419.35,108.69 419.45,101.85 419.54,112.77 419.64,107.35 419.74,106.06 419.84,102.81 419.94,103.74 420.04,108.15 420.14,107.02 420.24,100.13 420.34,102.79 420.44,104.87 420.54,102.37 420.64,110.67 420.74,108.48 420.84,103.63 420.94,100.19 421.04,105.11 421.13,103.47 421.23,103.13 421.33,100.89 421.43,106.28 421.53,104.02 421.63,107.42 421.73,106.32 421.83,102.50 421.93,104.01 422.03,101.48 422.13,103.65 422.23,100.19 422.33,104.95 422.43,96.46 422.53,103.64 422.63,102.33 422.72,104.44 422.82,99.22 422.92,102.35 423.02,103.54 423.12,101.21 423.22,101.71 423.32,100.97 423.42,99.60 423.52,99.19 423.62,96.07 423.72,100.94 423.82,100.10 423.92,104.51 424.02,97.21 424.12,104.11 424.21,102.55 424.31,92.21 424.41,98.59 424.51,102.50 424.61,98.21 424.71,100.22 424.81,100.71 424.91,95.32 425.01,98.59 425.11,96.66 425.21,100.55 425.31,89.24 425.41,95.13 425.51,92.58 425.61,95.20 425.71,96.61 425.80,95.88 425.90,94.62 426.00,97.20 426.10,91.97 426.20,96.71 426.30,94.02 426.40,89.76 426.50,93.93 426.60,94.02 426.70,93.02 426.80,88.79 426.90,92.13 427.00,98.10 427.10,97.37 427.20,88.61 427.30,90.49 427.39,89.19 427.49,86.11 427.59,85.71 427.69,89.50 427.79,93.34 427.89,92.12 427.99,92.82 428.09,94.66 428.19,86.47 428.29,87.50 428.39,83.14 428.49,86.57 428.59,88.41 428.69,90.46 428.79,83.25 428.89,84.38 428.98,85.46 429.08,85.03 429.18,80.63 429.28,86.87 429.38,83.71 429.48,83.38 429.58,82.15 429.68,83.43 429.78,81.74 429.88,82.81 429.98,86.74 430.08,82.44 430.18,83.61 430.28,82.12 430.38,77.32 430.47,75.73 430.57,82.74 430.67,78.50 430.77,79.81 430.87,78.03 430.97,75.94 431.07,83.78 431.17,87.73 431.27,83.33 431.37,75.06 431.47,77.22 431.57,79.40 431.67,74.61 431.77,77.24 431.87,78.55 431.97,83.08 432.06,72.23 432.16,77.16 432.26,73.07 432.36,69.38 432.46,78.12 432.56,69.98 432.66,74.57 432.76,77.75 432.86,75.69 432.96,74.03 433.06,77.95 433.16,73.14 433.26,72.34 433.36,77.90 433.46,74.29 433.56,71.69 433.65,70.58 433.75,72.16 433.85,75.62 433.95,71.94 434.05,73.06 434.15,74.86 434.15,74.82 434.25,70.27 434.35,73.08 434.45,68.50 434.45,71.49 434.55,68.82 434.65,67.94 434.66,67.84 434.75,66.17 434.79,65.65 434.85,64.74 434.90,65.51 434.95,64.72 435.00,65.04 435.05,66.33 435.14,67.49 435.15,68.01 435.24,69.05 435.34,70.43 435.35,70.78 435.44,72.05 435.54,73.31 435.64,72.88 435.65,71.59 435.74,70.91 435.84,69.83 435.94,75.41 436.04,71.18 436.14,71.38 436.24,72.82 436.34,74.62 436.44,76.90 436.54,74.07 436.64,68.80 436.74,74.16 436.83,71.88 436.93,70.72 437.03,75.76 437.13,72.11 437.23,72.55 437.33,75.18 437.43,74.24 437.53,74.57 437.63,73.67 437.73,71.11 437.83,71.24 437.93,72.58 438.03,73.07 438.13,76.08 438.23,68.86 438.32,73.57 438.42,65.51 438.52,77.15 438.62,75.80 438.72,71.46 438.82,71.94 438.92,73.14 439.02,70.79 439.12,74.17 439.22,76.33 439.32,70.25 439.42,73.90 439.52,71.01 439.62,78.44 439.72,68.99 439.82,72.49 439.91,74.94 440.01,74.58 440.11,72.33 440.21,75.72 440.31,73.14 440.41,76.54 440.51,70.40 440.61,72.94 440.71,78.28 440.81,79.43 440.91,79.64 441.01,71.91 441.11,83.97 441.21,75.53 441.31,82.51 441.41,77.23 441.50,71.72 441.60,77.09 441.70,74.79 441.80,76.86 441.90,73.84 442.00,76.42 442.10,76.40 442.20,73.13 442.30,77.32 442.40,73.77 442.50,73.89 442.60,72.24 442.70,77.64 442.80,75.32 442.90,70.76 443.00,73.15 443.09,77.19 443.19,76.52 443.29,76.83 443.39,74.59 443.49,76.93 443.59,76.93 443.69,79.53 443.79,76.78 443.89,82.12 443.99,76.58 444.09,79.25 444.19,82.59 444.29,73.68 444.39,76.83 444.49,82.20 444.59,77.54 444.68,77.18 444.78,84.07 444.88,83.40 444.98,80.23 445.08,77.95 445.18,81.98 445.28,78.26 445.38,85.31 445.48,77.06 445.58,77.23 445.68,76.14 445.78,80.61 445.88,85.06 445.98,81.39 446.08,85.33 446.17,83.45 446.27,83.63 446.37,84.01 446.47,83.13 446.57,81.71 446.67,85.71 446.77,85.80 446.87,87.32 446.97,84.92 447.07,86.75 447.17,83.32 447.27,87.06 447.37,81.81 447.47,81.06 447.57,88.28 447.67,85.16 447.76,86.87 447.86,86.43 447.96,87.05 448.06,80.31 448.16,85.55 448.26,87.07 448.36,85.05 448.46,87.24 448.56,85.35 448.66,87.03 448.76,87.80 448.86,85.67 448.88,82.44 448.96,87.34 449.06,86.49 449.16,84.86 449.26,84.18 449.32,82.02 449.35,83.54 449.45,81.69 449.55,79.75 449.64,76.60 449.65,75.06 449.75,72.25 449.84,70.05 449.85,70.82 449.95,67.81 450.00,68.09 450.05,68.14 450.15,70.74 450.16,70.92 450.25,73.49 450.35,77.84 450.36,79.21 450.45,79.84 450.55,83.38 450.65,86.04 450.68,86.36 450.75,88.00 450.85,86.91 450.94,93.73 451.04,92.25 451.12,93.25 451.14,94.12 451.24,90.80 451.34,94.32 451.44,91.58 451.54,93.02 451.64,95.55 451.74,97.05 451.84,94.34 451.94,93.14 452.04,93.96 452.14,99.18 452.24,95.23 452.34,88.78 452.43,98.31 452.53,97.68 452.63,92.13 452.73,91.10 452.83,93.43 452.93,96.78 453.03,93.05 453.13,89.71 453.23,96.93 453.33,99.03 453.43,91.54 453.53,93.21 453.57,91.86 453.63,91.57 453.73,89.36 453.83,89.38 453.93,88.95 454.02,85.50 454.02,82.06 454.12,80.19 454.22,76.96 454.32,72.42 454.34,71.60 454.42,66.71 454.52,59.75 454.54,56.94 454.62,54.00 454.70,53.35 454.72,53.44 454.82,56.04 454.86,58.89 454.92,63.03 455.02,69.53 455.06,71.98 455.12,77.02 455.22,80.48 455.32,85.58 455.38,89.69 455.42,88.86 455.52,89.06 455.61,93.84 455.71,93.49 455.81,96.06 455.82,96.45 455.91,99.80 456.01,102.43 456.11,97.92 456.21,98.50 456.31,101.29 456.41,107.72 456.51,105.97 456.61,100.36 456.71,104.29 456.81,104.01 456.91,106.17 457.01,106.89 457.11,107.63 457.20,109.35 457.30,115.10 457.40,105.93 457.50,105.69 457.60,111.00 457.70,108.20 457.80,112.25 457.90,107.03 458.00,107.54 458.10,109.04 458.20,108.45 458.30,110.36 458.40,114.86 458.50,109.53 458.60,111.13 458.70,115.95 458.79,112.95 458.89,114.57 458.99,116.60 459.09,117.27 459.19,115.44 459.29,114.53 459.39,111.29 459.49,117.22 459.59,119.17 459.69,119.28 459.79,112.89 459.89,118.51 459.99,119.71 460.09,118.80 460.19,114.49 460.28,116.74 460.38,115.62 460.48,122.95 460.58,125.15 460.68,120.14 460.78,116.95 460.88,119.76 460.98,124.65 461.08,122.79 461.18,126.11 461.28,119.65 461.38,125.54 461.48,122.81 461.58,125.20 461.68,127.61 461.78,126.08 461.87,131.21 461.97,126.21 462.07,126.58 462.17,122.41 462.27,127.71 462.37,123.32 462.47,129.40 462.57,126.32 462.67,129.79 462.77,128.26 462.87,127.45 462.97,126.60 463.07,128.53 463.17,134.77 463.27,130.14 463.37,131.87 463.46,135.19 463.56,135.43 463.66,131.05 463.76,127.91 463.86,126.40 463.96,135.11 464.06,129.64 464.16,134.70 464.26,135.98 464.36,134.53 464.46,138.80 464.56,136.31 464.66,131.30 464.76,132.43 464.86,132.25 464.96,128.33 465.05,136.24 465.15,134.40 465.25,136.30 465.35,132.92 465.45,133.31 465.55,132.30 465.65,135.66 465.75,132.44 465.85,136.94 465.95,139.47 466.05,137.48 466.15,134.70 466.25,136.58 466.35,135.34 466.45,136.50 466.55,140.40 466.64,136.44 466.74,133.97 466.84,134.07 466.94,140.37 467.04,137.53 467.14,138.69 467.24,135.39 467.34,136.85 467.44,134.65 467.54,141.17 467.64,136.88 467.74,142.99 467.84,138.37 467.94,141.73 468.04,138.99 468.13,137.71 468.23,141.46 468.33,140.27 468.43,138.59 468.53,142.28 468.63,142.32 468.73,138.63 468.83,145.69 468.93,141.97 469.03,136.50 469.13,144.44 469.23,141.93 469.33,139.54 469.43,139.92 469.53,144.15 469.63,144.98 469.72,139.19 469.82,142.23 469.92,140.07 470.02,146.42 470.12,139.88 470.22,140.50 470.32,143.88 470.42,146.85 470.52,144.30 470.62,145.73 470.72,143.74 470.82,143.49 470.92,145.70 471.02,144.12 471.12,145.52 471.22,142.29 471.31,145.93 471.41,146.25 471.51,146.50 471.61,145.50 471.71,141.71 471.81,145.33 471.91,144.06 472.01,145.94 472.11,146.53 472.21,145.75 472.31,149.40 472.41,149.65 472.51,146.14 472.61,146.92 472.71,140.95 472.81,148.23 472.90,145.93 473.00,151.17 473.10,153.99 473.20,145.54 473.30,147.22 473.40,145.64 473.50,145.81 473.60,151.12 473.70,147.93 473.80,147.23 473.90,148.81 474.00,151.46 474.10,151.33 474.20,143.72 474.30,149.94 474.39,148.02 474.49,151.49 474.59,148.99 474.69,150.45 474.79,148.05 474.89,151.96 474.99,145.78 475.09,151.56 475.19,147.29 475.29,148.00 475.39,152.15 475.49,146.71 475.59,148.41 475.69,148.76 475.79,149.65 475.89,153.35 475.98,157.75 476.08,151.36 476.18,155.28 476.28,147.68 476.38,151.04 476.48,148.38 476.58,144.74 476.68,150.28 476.78,149.46 476.88,154.85 476.98,157.15 477.08,152.75 477.18,155.21 477.28,152.09 477.38,152.72 477.48,155.76 477.57,148.47 477.67,159.27 477.77,153.02 477.87,148.19 477.97,153.58 478.07,151.71 478.17,151.64 478.27,151.30 478.37,152.66 478.47,151.79 478.57,152.50 478.67,151.95 478.77,148.32 478.87,155.02 478.97,155.26 479.07,152.71 479.16,151.45 479.26,150.77 479.36,156.89 479.46,153.10 479.56,157.50 479.66,156.33 479.76,155.55 479.86,153.70 479.96,152.72 480.06,149.93 480.16,155.12 480.26,152.60 480.36,154.85 480.46,155.42 480.56,150.77 480.66,159.76 480.75,155.08 480.85,156.47 480.95,151.61 481.05,156.43 481.15,155.26 481.25,154.21 481.35,155.66 481.45,157.70 481.55,159.68 481.65,152.38 481.75,157.60 481.85,163.58 481.95,160.57 482.05,157.80 482.15,153.24 482.24,158.60 482.34,156.74 482.44,155.03 482.54,162.79 482.64,158.16 482.74,157.61 482.84,160.37 482.94,154.93 483.04,155.77 483.14,157.32 483.24,159.42 483.34,158.74 483.44,153.66 483.54,157.22 483.64,158.25 483.74,154.09 483.83,156.88 483.93,157.85 484.03,157.82 484.05,155.21 484.13,155.68 484.23,157.06 484.33,156.04 484.35,156.28 484.43,156.65 484.53,156.12 484.56,155.91 484.63,153.59 484.69,152.73 484.73,152.58 484.80,153.01 484.83,151.93 484.91,152.21 484.93,153.23 485.03,154.71 485.04,154.64 485.13,155.86 485.23,157.78 485.25,157.56 485.33,156.91 485.42,155.58 485.52,158.64 485.55,157.75 485.62,160.15 485.72,159.71 485.82,158.28 485.92,155.18 486.02,159.32 486.12,160.19 486.22,156.59 486.32,162.83 486.42,158.26 486.52,155.54 486.62,154.08 486.72,163.81 486.82,156.91 486.92,161.90 487.01,155.88 487.11,163.72 487.21,164.78 487.31,157.07 487.41,156.83 487.51,162.27 487.61,159.51 487.71,160.35 487.81,157.06 487.91,160.73 488.01,158.19 488.11,163.61 488.21,157.62 488.31,159.23 488.41,164.81 488.51,161.01 488.60,159.52 488.70,161.49 488.80,161.42 488.90,161.48 489.00,164.45 489.10,163.90 489.20,162.25 489.30,160.89 489.40,168.04 489.50,164.75 489.60,163.65 489.70,163.16 489.80,164.15 489.90,164.20 490.00,164.89 490.09,164.62 490.19,164.28 490.29,165.33 490.39,163.65 490.49,163.95 490.59,165.81 490.69,164.84 490.79,162.82 490.89,167.04 490.99,166.31 491.09,163.32 491.19,165.64 491.29,166.18 491.39,164.55 491.49,167.00 491.59,159.33 491.68,164.56 491.78,162.24 491.88,161.91 491.98,167.78 492.08,172.63 492.18,162.95 492.28,165.93 492.38,168.66 492.48,161.49 492.58,167.36 492.68,169.10 492.78,161.00 492.88,168.98 492.98,169.39 493.08,167.62 493.18,170.90 493.27,166.46 493.37,167.83 493.47,169.20 493.57,168.48 493.67,169.79 493.77,166.40 493.87,166.37 493.97,165.54 494.07,169.15 494.17,170.92 494.27,173.62 494.37,173.02 494.47,165.01 494.57,169.68 494.67,173.83 494.77,166.12 494.86,171.30 494.96,166.16 495.06,169.68 495.16,171.05 495.26,173.02 495.36,170.00 495.46,168.28 495.56,164.93 495.66,165.86 495.76,172.51 495.86,170.18 495.96,169.68 496.06,171.42 496.16,172.18 496.26,175.95 496.35,170.35 496.45,172.72 496.55,171.26 496.65,170.58 496.75,167.63 496.85,171.21 496.95,167.82 497.05,167.49 497.15,173.43 497.25,168.05 497.35,166.78 497.45,168.64 497.55,169.93 497.65,167.87 497.75,172.75 497.85,172.09 497.94,172.31 498.04,173.09 498.14,169.26 498.24,173.12 498.34,170.27 498.44,169.41 498.54,168.09 498.64,170.71 498.74,168.87 498.84,173.20 498.94,172.85 499.04,168.69 499.14,168.52 499.24,172.78 499.34,170.29 499.44,172.49 499.53,172.68 499.63,172.92 499.73,172.19 499.83,171.97 499.93,171.81 500.03,171.29 500.13,171.61 500.23,170.87 500.33,172.35 500.43,175.58 500.53,174.30 500.63,169.98 500.73,172.01 500.83,172.62 500.93,168.23 501.03,170.10 501.12,174.63 501.22,172.80 501.32,176.91 501.42,171.61 501.52,175.67 501.62,172.74 501.72,170.39 501.82,173.52 501.92,175.49 502.02,173.85 502.12,173.20 502.22,174.92 502.32,171.03 502.42,172.70 502.52,172.17 502.62,175.37 502.71,170.80 502.81,174.46 502.91,172.05 503.01,168.03 503.11,173.99 503.21,171.44 503.31,174.05 503.41,175.48 503.51,177.47 503.61,172.27 503.71,174.47 503.81,179.11 503.91,176.69 504.01,174.08 504.11,177.20 504.20,178.40 504.30,176.95 504.40,173.41 504.50,176.85 504.60,175.24 504.70,174.91 504.80,176.50 504.90,176.16 505.00,175.43 505.10,176.62 505.20,177.48 505.30,172.29 505.40,173.06 505.50,178.52 505.60,178.56 505.70,176.48 505.79,172.31 505.89,177.93 505.99,175.98 506.09,177.45 506.19,176.24 506.29,174.91 506.39,179.48 506.49,176.01 506.59,177.87 506.69,172.49 506.79,176.56 506.89,180.47 506.99,177.08 507.09,178.28 507.19,179.10 507.29,180.19 507.38,176.76 507.48,174.63 507.58,178.81 507.68,174.27 507.78,174.68 507.88,180.24 507.98,174.74 508.08,175.47 508.18,177.63 508.28,173.53 508.38,175.07 508.48,177.80 508.58,174.41 508.68,173.74 508.78,174.66 508.88,179.00 508.97,176.65 509.07,177.96 509.17,177.82 509.27,177.35 509.37,176.51 509.47,177.28 509.57,175.08 509.67,179.11 509.77,178.69 509.87,174.05 509.97,174.36 510.07,177.37 510.17,178.20 510.27,175.73 510.37,177.23 510.46,179.15 510.56,180.72 510.66,176.20 510.76,178.03 510.86,175.96 510.96,177.72 511.06,176.84 511.16,180.94 511.26,176.70 511.36,177.02 511.46,176.24 511.56,178.92 511.66,181.52 511.76,177.96 511.86,177.11 511.96,180.88 512.05,178.11 512.15,183.37 512.25,177.59 512.35,179.12 512.45,178.67 512.55,177.53 512.65,178.42 512.75,178.16 512.85,178.27 512.95,179.44 513.05,179.48 513.15,177.69 513.25,179.29 513.35,180.36 513.45,183.42 513.55,181.03 513.64,173.40 513.74,181.41 513.84,179.11 513.94,178.69 514.04,176.55 514.14,173.92 514.24,181.09 514.34,180.13 514.44,181.45 514.54,178.10 514.64,179.49 514.74,178.40 514.84,178.17 514.94,186.69 515.04,178.19 515.14,180.72 515.23,180.24 515.33,177.02 515.43,178.55 515.53,181.10 515.63,178.45 515.73,180.61 515.83,181.09 515.93,180.67 516.03,180.48 516.13,180.15 516.23,179.27 516.33,177.22 516.43,181.22 516.53,182.40 516.63,180.09 516.73,180.06 516.82,180.83 516.92,179.62 517.02,175.82 517.12,177.92 517.22,177.10 517.32,181.36 517.42,183.80 517.52,180.33 517.62,184.39 517.72,180.61 517.82,180.81 517.92,180.11 518.02,178.23 518.12,180.96 518.22,181.90 518.31,180.28 518.41,185.75 518.51,178.77 518.61,180.97 518.71,179.16 518.81,179.96 518.91,178.99 519.01,178.27 519.11,179.55 519.21,180.41 519.31,180.18 519.41,180.60 519.51,181.56 519.61,176.73 519.71,183.64 519.81,180.88 519.90,176.33 520.00,179.42 520.10,179.22 520.20,183.88 520.30,183.54 520.40,181.02 520.50,179.28 520.60,179.89 520.70,177.58 520.80,180.13 520.90,183.85 521.00,184.14 521.10,180.53 521.20,182.83 521.30,181.88 521.40,181.61 521.49,178.71 521.59,181.98 521.69,179.13 521.79,180.88 521.89,185.95 521.99,181.94 522.09,184.08 522.19,184.88 522.29,180.93 522.39,182.31 522.49,182.40 522.59,185.16 522.69,183.66 522.79,182.87 522.89,184.79 522.99,182.03 523.08,183.40 523.18,188.39 523.28,181.27 523.38,182.74 523.48,184.62 523.58,185.27 523.68,184.45 523.78,185.68 523.88,183.69 523.98,183.67 524.08,183.56 524.18,181.75 524.28,182.79 524.38,181.47 524.48,183.60 524.58,179.92 524.67,181.59 524.77,187.00 524.87,184.49 524.97,183.35 525.07,185.83 525.17,186.25 525.27,181.59 525.37,185.57 525.47,180.78 525.57,182.20 525.67,185.90 525.77,182.35 525.87,182.46 525.97,186.22 526.07,184.52 526.16,181.09 526.26,185.51 526.36,184.96 526.46,186.74 526.56,181.50 526.66,184.63 526.76,183.03 526.86,185.12 526.96,182.20 527.06,183.03 527.16,184.10 527.26,184.84 527.36,183.53 527.46,187.55 527.56,183.00 527.66,184.25 527.75,185.89 527.85,184.38 527.95,184.06 528.05,181.36 528.15,186.61 528.25,181.42 528.35,184.92 528.45,182.95 528.55,182.01 528.65,184.05 528.75,183.61 528.85,183.46 528.95,184.29 529.05,183.18 529.05,183.59 529.15,184.62 529.25,184.67 529.34,182.92 529.35,183.68 529.44,183.16 529.54,182.06 529.56,182.40 529.64,181.78 529.69,181.43 529.74,181.39 529.80,180.35 529.84,180.82 529.90,180.37 529.94,181.83 530.04,182.22 530.04,181.92 530.14,183.08 530.24,183.87 530.25,183.49 530.34,184.82 530.44,183.27 530.54,183.09 530.55,182.87 530.64,185.06 530.74,185.37 530.84,186.32 530.93,188.48 531.03,187.29 531.13,185.61 531.23,186.28 531.33,187.01 531.43,183.15 531.53,186.34 531.63,185.74 531.73,185.58 531.83,186.54 531.93,184.35 532.03,186.25 532.13,187.12 532.23,185.05 532.33,182.30 532.42,183.47 532.52,185.06 532.62,189.21 532.72,188.08 532.82,185.38 532.92,186.91 533.02,184.30 533.12,187.72 533.22,186.13 533.32,184.68 533.42,187.20 533.52,185.06 533.62,188.17 533.72,188.67 533.82,189.03 533.92,185.13 534.01,184.32 534.11,185.63 534.21,184.31 534.31,189.21 534.41,184.04 534.51,181.33 534.61,184.71 534.71,184.08 534.81,186.28 534.91,187.06 535.01,186.49 535.11,185.97 535.21,188.52 535.31,186.44 535.41,189.27 535.51,186.90 535.60,185.05 535.70,189.62 535.80,185.46 535.90,187.07 536.00,191.67 536.10,186.92 536.20,186.08 536.30,186.41 536.40,187.05 536.50,186.26 536.60,185.40 536.70,186.42 536.80,187.77 536.85,187.02 536.90,187.08 537.00,188.15 537.10,185.84 537.15,186.63 537.19,186.59 537.29,185.62 537.36,184.96 537.39,185.08 537.49,184.28 537.50,183.64 537.59,184.08 537.60,183.73 537.69,184.42 537.71,184.29 537.79,184.98 537.84,185.15 537.89,185.74 537.99,186.48 538.05,185.98 538.09,187.49 538.19,186.69 538.29,187.24 538.35,187.70 538.39,186.50 538.49,186.91 538.59,189.59 538.69,188.62 538.78,185.90 538.88,186.37 538.98,187.95 539.08,184.57 539.18,188.56 539.28,188.85 539.38,186.91 539.48,188.07 539.58,186.40 539.68,186.90 539.78,189.30 539.88,187.17 539.98,186.35 540.08,188.93 540.18,190.04 540.27,187.45 540.37,188.41 540.47,190.51 540.57,190.39 540.67,182.95 540.77,189.77 540.87,191.68 540.97,190.82 541.07,188.40 541.17,191.43 541.27,185.81 541.37,189.30 541.47,188.92 541.57,190.32 541.67,184.95 541.77,187.99 541.86,187.87 541.96,190.46 542.06,188.73 542.16,189.17 542.26,188.42 542.36,189.47 542.46,191.40 542.56,188.92 542.66,188.15 542.76,188.10 542.86,190.51 542.96,191.33 543.06,188.48 543.16,189.85 543.26,187.05 543.36,190.79 543.45,190.29 543.55,186.52 543.65,188.86 543.75,190.01 543.85,186.87 543.95,192.84 544.05,190.17 544.15,186.62 544.25,185.52 544.35,189.71 544.45,188.90 544.55,189.95 544.65,188.93 544.75,186.07 544.85,191.46 544.95,191.65 545.04,194.49 545.14,191.03 545.24,192.38 545.34,192.71 545.44,190.49 545.54,189.66 545.64,189.17 545.74,191.26 545.84,189.51 545.94,191.57 546.04,191.64 546.14,190.50 546.24,191.36 546.34,188.40 546.44,191.33 546.54,189.36 546.63,190.64 546.73,188.72 546.83,192.06 546.93,190.07 547.03,192.45 547.13,188.01 547.23,187.95 547.33,189.45 547.43,188.34 547.53,191.42 547.63,189.23 547.73,188.97 547.83,191.11 547.93,191.81 548.03,193.71 548.12,189.49 548.22,189.32 548.32,185.25 548.42,190.85 548.52,189.40 548.62,191.66 548.72,191.52 548.82,191.18 548.92,189.35 548.95,189.91 549.02,189.91 549.12,190.46 549.22,189.61 549.25,189.52 549.32,189.52 549.42,188.73 549.46,188.35 549.52,188.44 549.60,187.27 549.62,187.23 549.70,186.95 549.71,187.51 549.81,186.95 549.81,187.63 549.91,188.46 549.94,188.40 550.01,189.06 550.11,189.56 550.15,190.24 550.21,189.14 550.31,190.04 550.41,188.40 550.45,189.12 550.51,191.66 550.61,192.46 550.71,189.31 550.81,188.12 550.91,189.04 551.01,190.76 551.11,194.28 551.21,189.82 551.30,190.95 551.40,192.07 551.50,191.92 551.60,190.72 551.70,191.31 551.80,194.45 551.90,191.53 552.00,191.47 552.10,190.44 552.20,191.19 552.30,190.47 552.40,191.52 552.50,192.33 552.60,194.14 552.70,190.55 552.80,194.41 552.89,192.99 552.99,190.02 553.09,191.20 553.19,188.18 553.29,195.36 553.39,188.64 553.49,191.77 553.59,193.11 553.69,193.51 553.79,193.24 553.89,192.50 553.99,188.74 554.09,192.62 554.19,194.16 554.29,193.53 554.38,193.76 554.48,190.11 554.58,188.21 554.68,189.64 554.78,189.61 554.88,188.96 554.98,191.12 555.08,192.36 555.18,192.45 555.28,192.17 555.38,192.98 555.45,189.53 555.48,192.29 555.58,191.92 555.68,189.67 555.75,190.91 555.78,190.49 555.88,189.36 555.96,189.55 555.97,189.26 556.07,188.54 556.10,187.87 556.17,187.83 556.20,186.94 556.27,188.13 556.31,187.85 556.37,189.24 556.44,189.61 556.47,189.15 556.57,190.82 556.65,190.57 556.67,190.04 556.77,190.44 556.87,191.45 556.95,189.96 556.97,190.23 557.07,190.64 557.17,190.74 557.27,191.45 557.37,191.03 557.47,194.00 557.56,191.80 557.66,189.41 557.76,191.43 557.86,194.60 557.96,193.61 558.06,191.60 558.16,192.12 558.26,188.37 558.36,190.62 558.46,189.87 558.56,190.32 558.66,194.04 558.76,193.69 558.86,189.67 558.96,190.70 559.06,192.26 559.15,191.91 559.25,190.21 559.35,193.49 559.45,193.54 559.55,191.96 559.65,190.10 559.75,191.62 559.85,192.63 559.95,188.59 560.05,193.13 560.15,192.81 560.25,191.11 560.35,194.24 560.45,190.69 560.55,190.99 560.65,191.05 560.74,190.66 560.84,193.96 560.94,194.07 561.04,195.65 561.14,194.55 561.24,191.48 561.34,194.27 561.44,195.23 561.54,191.49 561.64,191.77 561.74,191.03 561.84,192.95 561.94,194.37 562.04,194.63 562.14,191.22 562.23,193.10 562.33,192.37 562.43,190.81 562.53,189.79 562.63,192.36 562.73,189.30 562.83,190.25 562.93,192.97 563.03,193.55 563.13,192.18 563.23,193.67 563.33,192.43 563.43,193.84 563.53,191.06 563.63,188.97 563.73,195.92 563.82,193.85 563.92,197.05 564.02,192.72 564.12,193.91 564.22,192.68 564.32,193.20 564.42,189.39 564.52,192.67 564.62,195.17 564.72,190.63 564.82,193.54 564.92,190.27 565.02,193.28 565.12,191.28 565.22,189.21 565.32,194.97 565.41,190.58 565.51,191.86 565.61,190.06 565.71,195.81 565.81,192.42 565.91,191.94 566.01,192.00 566.11,192.74 566.21,193.39 566.31,191.89 566.41,192.15 566.51,188.49 566.61,193.04 566.71,189.91 566.81,190.69 566.91,190.69 567.00,192.60 567.10,192.59 567.20,188.78 567.30,195.84 567.40,189.29 567.50,192.03 567.60,191.62 567.70,188.32 567.80,193.81 567.90,191.55 568.00,189.89 568.10,192.49 568.20,185.93 568.30,191.23 568.40,192.05 568.49,192.27 568.59,193.76 568.69,193.00 568.79,188.48 568.89,192.54 568.99,190.34 569.09,190.60 569.19,193.85 569.29,193.82 569.39,195.01 569.49,192.48 569.59,195.24 569.69,191.38 569.79,192.84 569.89,192.37 569.99,191.55 570.08,189.14 570.18,190.22 570.28,194.48 570.38,192.32 570.48,194.41 570.58,190.72 570.68,191.14 570.78,192.02 570.88,192.30 570.98,192.18 571.08,193.76 571.18,189.78 571.28,194.05 571.38,191.88 571.48,192.99 571.58,190.00 571.67,192.35 571.77,193.37 571.87,190.13 571.97,195.00 572.07,190.83 572.17,192.77 572.27,191.01 572.37,192.94 572.47,194.41 572.57,188.91 572.67,190.48 572.77,193.33 572.87,191.79 572.97,191.94 573.07,193.59 573.17,193.89 573.26,192.75 573.36,190.98 573.46,194.10 573.56,195.84 573.66,191.45 573.76,191.68 573.86,194.02 573.96,191.19 574.06,191.33 574.16,190.02 574.26,190.95 574.36,192.89 574.46,192.52 574.56,191.92 574.66,192.61 574.76,192.18 574.85,190.99 574.95,193.81 575.05,191.05 575.15,192.91 575.25,190.01 575.35,190.61 575.45,191.34 575.55,191.21 575.65,194.43 575.75,194.87 575.85,189.31 575.95,192.41 576.05,194.77 576.15,190.45 576.25,190.57 576.34,189.34 576.44,196.07 576.54,191.33 576.64,191.91 576.74,189.97 576.84,191.17 576.94,190.25 577.04,191.47 577.14,189.78 577.24,190.59 577.34,191.96 577.44,191.60 577.54,191.07 577.64,192.74 577.74,190.09 577.84,191.48 577.93,193.92 578.03,190.83 578.13,192.42 578.23,192.79 578.33,191.95 578.43,192.49 578.53,191.49 578.63,190.39 578.73,191.42 578.83,191.28 578.93,196.84 579.03,192.19 579.13,189.22 579.23,189.24 579.33,189.07 579.43,188.70 579.52,190.87 579.62,191.67 579.72,189.53 579.82,188.98 579.92,191.13 580.02,195.56 580.12,191.16 580.22,195.71 580.32,191.53 580.42,191.64 580.52,191.04 580.62,190.39 580.72,192.01 580.82,189.53 580.92,188.85 581.02,191.91 581.11,188.22 581.21,188.31 581.31,194.58 581.41,190.03 581.51,187.25 581.61,191.03 581.71,188.84 581.81,191.02 581.91,190.98 582.01,189.01 582.11,188.60 582.21,192.85 582.31,194.53 582.41,190.51 582.51,188.61 582.61,188.40 582.70,193.29 582.80,191.59 582.90,192.94 583.00,194.51 583.10,192.05 583.20,192.22 583.30,191.14 583.40,191.62 583.50,190.64 583.60,192.36 583.70,194.17 583.80,189.34 583.90,192.85 584.00,190.57 584.10,189.62 584.19,191.81 584.29,189.80 584.39,191.24 584.49,192.73 584.59,190.23 584.69,192.44 584.79,188.60 584.89,193.03 584.99,190.48 585.09,195.60 585.19,193.38 585.29,190.58 585.39,192.46 585.49,191.89 585.59,190.63 585.69,193.66 585.78,191.22 585.88,190.20 585.98,190.77 586.08,193.80 586.18,188.70 586.28,189.09 586.38,191.94 586.48,191.33 586.58,192.42 586.68,189.43 586.78,192.33 586.88,190.79 586.98,189.86 587.08,192.61 587.18,189.53 587.28,192.80 587.37,190.80 587.47,192.01 587.57,188.53 587.67,192.35 587.77,191.18 587.87,189.81 587.97,192.83 588.07,188.81 588.17,188.88 588.27,190.65 588.37,190.48 588.47,189.73 588.57,191.74 588.67,192.42 588.77,190.41 588.87,187.49 588.96,193.11 589.06,191.31 589.16,190.03 589.26,192.18 589.36,188.76 589.46,191.59 589.56,192.84 589.66,191.07 589.76,192.29 589.86,189.64 589.96,191.19 590.06,192.94 590.16,191.38 590.26,190.79 590.36,191.69 590.45,192.53 590.55,195.43 590.65,192.33 590.75,189.04 590.85,193.06 590.95,189.85 591.05,187.43 591.15,193.07 591.25,195.02 591.35,190.42 591.45,191.69 591.55,190.78 591.65,193.88 591.75,191.17 591.85,189.68 591.95,191.42 592.04,193.25 592.14,191.22 592.24,190.48 592.34,190.75 592.44,193.83 592.54,191.16 592.64,193.11 592.74,192.35 592.84,193.34 592.94,192.94 593.04,190.89 593.14,192.96 593.24,190.06 593.34,192.42 593.44,193.76 593.54,192.95 593.63,189.14 593.73,191.83 593.83,191.99 593.93,193.85 594.03,191.47 594.13,194.10 594.23,191.94 594.33,194.21 594.43,190.64 594.53,193.66 594.63,187.99 594.73,195.88 594.83,189.80 594.93,191.96 595.03,193.02 595.13,191.22 595.22,189.81 595.32,195.95 595.42,193.17 595.52,192.00 595.62,193.13 595.72,192.60 595.82,191.65 595.92,191.98 596.02,192.62 596.12,192.87 596.22,191.95 596.32,193.84 596.42,194.03 596.52,193.06 596.62,192.77 596.72,193.91 596.81,189.54 596.91,191.73 597.01,190.71 597.11,191.28 597.21,189.22 597.31,192.16 597.41,191.64 597.51,192.49 597.61,197.97 597.71,193.02 597.81,192.67 597.91,192.77 598.01,192.49 598.11,194.11 598.21,193.29 598.30,193.05 598.40,192.34 598.50,194.92 598.60,190.58 598.70,193.48 598.80,196.18 598.90,193.77 599.00,189.87 599.10,193.77 599.20,196.24 599.30,194.04 599.40,191.75 599.50,195.37 599.60,189.90 599.70,192.89 599.80,192.02 599.89,195.18 599.99,193.43 600.09,189.03 600.19,194.32 600.29,194.45 600.39,194.57 600.49,190.14 600.59,195.11 600.69,193.43 600.79,190.52 600.89,193.31 600.99,193.76 601.09,194.17 601.19,192.71 601.29,194.30 601.39,192.83 601.48,193.72 601.58,195.96 601.68,195.91 601.78,191.42 601.88,191.01 601.98,194.50 602.08,193.04 602.18,192.95 602.28,193.58 602.38,193.25 602.48,195.63 602.58,191.76 602.68,195.81 602.78,193.35 602.88,192.65 602.98,193.33 603.07,193.94 603.17,189.63 603.27,192.75 603.37,195.72 603.47,195.94 603.57,194.46 603.67,194.00 603.77,191.42 603.87,192.04 603.97,194.92 604.07,195.15 604.17,194.19 604.27,193.49 604.37,191.11 604.47,192.20 604.57,195.55 604.66,193.28 604.76,195.91 604.86,193.17 604.96,195.73 605.06,193.99 605.16,193.74 605.26,193.46 605.36,196.22 605.46,190.72 605.56,193.07 605.66,193.87 605.76,192.56 605.86,189.74 605.96,195.47 606.06,192.11 606.15,192.84 606.25,191.96 606.35,194.65 606.45,192.63 606.55,193.21 606.65,192.47 606.75,196.74 606.85,194.43 606.95,197.35 607.05,196.54 607.15,196.26 607.25,194.36 607.35,198.11 607.45,195.25 607.55,196.55 607.65,193.70 607.74,193.89 607.84,195.08 607.94,194.01 608.04,196.81 608.14,197.01 608.24,196.36 608.34,195.24 608.44,195.30 608.54,195.77 608.64,192.59 608.74,198.84 608.84,197.18 608.94,195.24 609.04,196.80 609.14,196.71 609.24,194.45 609.33,194.83 609.43,199.18 609.53,196.73 609.63,196.27 609.73,195.55 609.83,192.53 609.93,198.16 610.03,195.94 610.13,195.57 610.23,197.29 610.33,199.32 610.43,199.03 610.53,196.40 610.63,193.46 610.73,193.45 610.83,195.14 610.92,191.26 611.02,195.34 611.12,196.80 611.22,198.60 611.32,196.50 611.42,193.78 611.52,198.07 611.62,193.18 611.72,196.48 611.82,196.79 611.92,194.56 612.02,193.45 612.12,198.73 612.22,196.78 612.32,197.17 612.41,196.01 612.51,198.24 612.61,198.33 612.71,197.66 612.81,195.27 612.91,193.77 613.01,196.16 613.11,198.65 613.21,196.95 613.31,197.52 613.41,194.65 613.51,198.70 613.61,198.37 613.71,199.50 613.81,199.46 613.91,197.20 614.00,197.07 614.10,195.17 614.20,200.78 614.30,197.96 614.40,199.28 614.50,198.94 614.60,199.30 614.70,196.74 614.80,195.34 614.90,197.70 615.00,195.74 615.10,197.83 615.20,197.21 615.30,196.23 615.40,196.15 615.50,193.28 615.59,198.35 615.69,197.76 615.79,198.11 615.89,195.97 615.99,198.60 616.09,196.37 616.19,198.57 616.29,198.53 616.39,197.84 616.49,195.94 616.59,195.95 616.69,198.47 616.79,198.57 616.89,197.81 616.99,195.29 617.09,197.19 617.18,197.18 617.28,197.71 617.38,198.69 617.48,200.02 617.58,198.89 617.68,198.77 617.78,196.23 617.88,197.68 617.98,197.02 618.08,199.10 618.18,197.21 618.28,200.07 618.38,198.41 618.48,197.66 618.58,198.95 618.68,198.56 618.77,200.12 618.87,196.82 618.97,195.77 619.07,196.48 619.17,200.19 619.27,199.23 619.37,197.29 619.47,199.79 619.57,198.45 619.67,200.58 619.77,195.92 619.87,199.23 619.97,195.54 620.07,201.70 620.17,195.99 620.26,199.12 620.36,198.83 620.46,198.01 620.56,198.48 620.66,199.24 620.76,201.21 620.86,198.83 620.96,202.11 621.06,199.68 621.16,197.44 621.26,198.19 621.36,198.66 621.46,199.35 621.56,197.05 621.66,197.67 621.76,198.22 621.85,200.57 621.95,201.73 622.05,197.80 622.15,200.31 622.25,198.32 622.35,200.10 622.45,197.74 622.55,200.40 622.65,196.76 622.75,199.16 622.85,199.94 622.95,199.69 623.05,201.41 623.15,197.14 623.25,201.35 623.35,196.90 623.44,200.83 623.54,198.49 623.64,199.09 623.74,202.41 623.84,201.16 623.94,200.73 624.04,200.95 624.14,198.31 624.24,200.44 624.34,199.92 624.44,202.55 624.54,200.97 624.64,199.46 624.74,199.69 624.84,200.37 624.94,198.16 625.03,199.31 625.13,199.83 625.23,198.86 625.33,200.04 625.43,202.27 625.53,200.36 625.63,200.08 625.73,198.91 625.83,200.76 625.93,200.93 626.03,200.63 626.13,203.24 626.23,202.11 626.33,203.36 626.43,202.38 626.53,198.94 626.62,203.08 626.72,197.46 626.82,201.89 626.92,200.05 627.02,198.80 627.12,199.50 627.22,199.88 627.32,206.73 627.42,201.52 627.52,200.71 627.62,201.37 627.72,201.16 627.82,203.12 627.92,200.87 628.02,203.09 628.11,199.93 628.21,201.78 628.31,201.96 628.41,201.08 628.51,200.48 628.61,201.90 628.71,202.64 628.81,204.38 628.91,201.24 629.01,204.90 629.11,204.96 629.21,203.07 629.31,202.30 629.41,199.69 629.51,201.01 629.61,200.81 629.70,201.04 629.80,202.62 629.90,201.53 630.00,201.95 630.10,201.36 630.20,204.37 630.30,205.97 630.40,203.68 630.50,201.83 630.60,203.20 630.70,200.54 630.80,201.89 630.90,203.12 631.00,198.99 631.10,201.18 631.20,199.72 631.29,204.32 631.39,204.11 631.49,200.25 631.59,200.48 631.69,201.91 631.79,204.70 631.89,205.41 631.99,200.91 632.09,202.55 632.19,201.47 632.29,202.45 632.39,201.58 632.49,204.01 632.59,201.67 632.69,201.68 632.79,202.82 632.88,203.93 632.98,199.81 633.08,201.77 633.18,201.88 633.28,201.49 633.38,203.14 633.48,203.20 633.58,203.65 633.68,203.13 633.78,202.81 633.88,203.45 633.98,204.37 634.08,200.64 634.18,204.88 634.28,203.48 634.37,201.22 634.47,201.45 634.57,200.76 634.67,203.52 634.77,205.78 634.87,201.48 634.97,199.41 635.07,203.01 635.17,208.49 635.27,200.01 635.37,203.85 635.47,200.33 635.57,203.21 635.67,202.23 635.77,205.28 635.87,201.64 635.96,202.12 636.06,203.78 636.16,203.22 636.26,202.68 636.36,204.08 636.46,202.23 636.56,204.17 636.66,203.23 636.76,205.19 636.86,201.72 636.96,202.98 637.06,205.71 637.16,203.98 637.26,202.09 637.36,202.51 637.46,202.34 637.55,207.55 637.65,202.19 637.75,202.12 637.85,200.85 637.95,203.62 638.05,205.04 638.15,203.73 638.25,200.93 638.35,204.30 638.45,200.95 638.55,204.88 638.65,201.69 638.75,201.79 638.85,204.26 638.95,203.77 639.05,205.19 639.14,204.27 639.24,206.14 639.34,204.95 639.44,206.43 639.54,206.64 639.64,200.46 639.74,201.13 639.84,203.06 639.94,204.37 640.04,204.00 640.14,203.39 640.24,204.80 640.34,202.96 640.44,203.42 640.54,204.98 640.64,205.50 640.73,205.22 640.83,205.02 640.93,202.60 641.03,202.85 641.13,205.06 641.23,203.88 641.33,200.50 641.43,205.29 641.53,206.73 641.63,205.76 641.73,203.44 641.83,206.65 641.93,202.60 642.03,206.16 642.13,204.14 642.22,203.15 642.32,202.45 642.42,206.59 642.52,203.38 642.62,205.81 642.72,204.06 642.82,203.33 642.92,205.64 643.02,203.30 643.12,205.48 643.22,206.00 643.32,205.06 643.42,203.30 643.52,202.98 643.62,207.46 643.72,205.77 643.81,205.66 643.91,205.05 644.01,205.56 644.11,204.07 644.21,205.05 644.31,204.86 644.41,204.30 644.51,204.84 644.61,203.40 644.71,204.58 644.81,205.24 644.91,208.69 645.01,204.14 645.11,208.08 645.21,205.96 645.31,207.68 645.40,204.81 645.50,205.40 645.60,206.92 645.70,203.91 645.80,207.20 645.90,206.51 646.00,206.43 646.10,204.18 646.20,207.98 646.30,206.88 646.40,204.09 646.50,207.08 646.60,207.23 646.70,204.77 646.80,207.22 646.90,204.43 646.99,207.27 647.09,207.56 647.19,206.94 647.29,207.57 647.39,203.25 647.49,205.29 647.59,203.71 647.69,205.38 647.79,205.09 647.89,204.58 647.99,206.87 648.09,207.47 648.19,207.26 648.29,205.44 648.39,209.12 648.48,209.25 648.58,208.41 648.68,203.94 648.78,207.73 648.88,207.09 648.98,206.87 649.08,207.40 649.18,203.40 649.28,204.73 649.38,209.52 649.48,204.99 649.58,208.23 649.68,206.05 649.78,204.66 649.88,208.81 649.98,205.98 650.07,205.18 650.17,206.17 650.27,204.60 650.37,208.26 650.47,206.13 650.57,207.67 650.67,207.04 650.77,208.22 650.87,206.72 650.97,208.06 651.07,208.88 651.17,205.95 651.27,209.47 651.37,203.98 651.47,211.25 651.57,208.13 651.66,203.45 651.76,209.25 651.86,211.43 651.96,206.50 652.06,210.88 652.16,206.38 652.26,210.31 652.36,209.80 652.46,208.25 652.56,206.14 652.66,205.23 652.76,209.14 652.86,208.91 652.96,207.22 653.06,210.95 653.16,208.41 653.25,205.70 653.35,207.74 653.45,207.97 653.55,206.19 653.65,210.88 653.75,210.92 653.85,207.91 653.95,204.03 654.05,207.41 654.15,208.34 654.25,208.20 654.35,206.08 654.45,207.01 654.55,208.84 654.65,207.85 654.75,203.65 654.84,207.24 654.94,205.80 655.04,210.47 655.14,207.42 655.24,210.93 655.34,209.00 655.44,209.39 655.54,208.14 655.64,208.74 655.74,211.43 655.84,207.03 655.94,209.65 656.04,208.65 656.14,209.77 656.24,206.78 656.33,208.49 656.43,209.51 656.53,211.63 656.63,205.78 656.73,210.02 656.83,208.25 656.93,208.13 657.03,209.34 657.13,207.84 657.23,210.04 657.33,209.15 657.43,212.98 657.53,207.67 657.63,211.77 657.73,210.31 657.83,204.50 657.92,210.01 658.02,206.40 658.12,208.97 658.22,210.67 658.32,209.53 658.42,209.13 658.52,207.97 658.62,211.17 658.72,205.56 658.82,209.49 658.92,211.89 659.02,210.31 659.12,208.74 659.22,208.61 659.32,210.95 659.42,211.55 659.51,209.23 659.61,212.13 659.71,208.49 659.81,209.51 659.91,209.36 660.01,212.72 660.11,211.78 660.21,210.25 660.31,210.47 660.41,208.49 660.51,206.90 660.61,211.08 660.71,213.63 660.81,209.42 660.91,208.47 661.01,212.56 661.10,211.97 661.20,211.55 661.30,208.87 661.40,212.35 661.50,211.96 661.60,212.13 661.70,211.06 661.80,209.31 661.90,212.13 662.00,209.42 662.10,210.49 662.20,210.08 662.30,209.79 662.40,209.89 662.50,213.82 662.60,210.18 662.69,211.27 662.79,210.09 662.89,211.27 662.99,213.08 663.09,212.05 663.19,211.05 663.29,210.34 663.39,210.35 663.49,209.89 663.59,210.34 663.69,206.89 663.79,208.36 663.89,211.95 663.99,209.36 664.09,209.33 664.18,210.41 664.28,210.68 664.38,206.83 664.48,209.20 664.58,210.07 664.68,209.04 664.78,210.66 664.88,210.50 664.98,208.84 665.08,211.26 665.18,211.22 665.28,208.12 665.38,210.40 665.48,211.46 665.58,214.48 665.68,210.40 665.77,208.71 665.87,212.73 665.97,210.74 666.07,211.93 666.17,210.44 666.27,211.71 666.37,212.12 666.47,212.34 666.57,208.90 666.67,211.07 666.77,213.02 666.87,212.53 666.97,212.98 667.07,213.74 667.17,213.78 667.27,211.59 667.36,210.16 667.46,211.73 667.56,209.18 667.66,214.16 667.76,208.82 667.86,211.08 667.96,211.04 668.06,212.07 668.16,209.55 668.26,212.02 668.36,207.56 668.46,210.16 668.56,212.92 668.66,211.53 668.76,208.91 668.86,211.83 668.95,209.13 669.05,210.18 669.15,211.73 669.25,210.22 669.35,209.87 669.45,211.03 669.55,210.70 669.65,211.39 669.75,211.64 669.85,213.66 669.95,209.93 670.05,213.40 670.15,210.23 670.25,210.67 670.35,212.83 670.44,210.26 670.54,212.73 670.64,213.30 670.74,210.33 670.84,211.02 670.94,211.13 671.04,212.11 671.14,209.93 671.24,209.17 671.34,212.94 671.44,210.86 671.54,212.97 671.64,212.53 671.74,212.30 671.84,212.01 671.94,211.26 672.03,216.19 672.13,212.44 672.23,211.78 672.33,213.58 672.43,212.84 672.53,213.81 672.63,213.66 672.73,212.57 672.83,215.41 672.93,211.69 673.03,212.02 673.13,209.80 673.23,210.20 673.33,214.38 673.43,211.65 673.53,214.91 673.62,212.89 673.72,209.31 673.82,214.56 673.92,211.26 674.02,211.99 674.12,209.63 674.22,210.88 674.32,210.09 674.42,212.75 674.52,213.69 674.62,213.23 674.72,214.10 674.82,213.99 674.92,214.83 675.02,214.13 675.12,214.19 675.21,212.20 675.31,212.63 675.41,209.99 675.51,211.85 675.61,211.40 675.71,214.62 675.81,213.62 675.91,213.07 676.01,210.10 676.11,215.36 676.21,214.45 676.31,213.11 676.41,213.43 676.51,215.49 676.61,212.59 676.71,212.36 676.80,213.05 676.90,213.27 677.00,211.96 677.10,213.69 677.20,218.03 677.30,210.27 677.40,212.35 677.50,212.98" fill="none" stroke="#000" stroke-width="1.3" stroke-linejoin="round"/>
<g fill="#000">
<path d="M44.7,94.2 L47.4,97.5 L44.7,100.8 L42.1,97.5Z"/>
<circle cx="61.6" cy="68.8" r="2.45"/>
<path d="M76.7,106.2 L79.4,109.5 L76.7,112.8 L74.0,109.5Z"/>
<circle cx="94.3" cy="36.5" r="2.45"/>
<polygon points="98.60,28.70 99.77,30.83 101.90,32.00 99.77,33.17 98.60,35.30 97.43,33.17 95.30,32.00 97.43,30.83"/>
<polygon points="106.40,147.30 107.34,149.71 109.92,149.86 107.92,151.49 108.57,153.99 106.40,152.60 104.23,153.99 104.88,151.49 102.88,149.86 105.46,149.71"/>
<path d="M112.10,142.60 L112.10,136.60 M109.50,141.10 L114.70,138.10 M109.50,138.10 L114.70,141.10 " stroke="#000" stroke-width="1.3" stroke-linecap="round" fill="none"/>
<circle cx="120.7" cy="120.8" r="2.45"/>
<circle cx="127.7" cy="107.3" r="2.45"/>
<circle cx="147.6" cy="112.5" r="2.45"/>
<circle cx="133.5" cy="165.5" r="2.45"/>
<circle cx="141.3" cy="160.7" r="2.45"/>
<circle cx="153.2" cy="161.2" r="2.45"/>
<polygon points="171.30,181.30 172.24,183.71 174.82,183.86 172.82,185.49 173.47,187.99 171.30,186.60 169.13,187.99 169.78,185.49 167.78,183.86 170.36,183.71"/>
<polygon points="179.40,162.90 180.57,165.03 182.70,166.20 180.57,167.37 179.40,169.50 178.23,167.37 176.10,166.20 178.23,165.03"/>
<circle cx="192.7" cy="179.8" r="2.45"/>
<circle cx="205.1" cy="174.3" r="2.45"/>
<polygon points="212.10,181.00 213.27,183.13 215.40,184.30 213.27,185.47 212.10,187.60 210.93,185.47 208.80,184.30 210.93,183.13"/>
<circle cx="216.4" cy="155.6" r="2.45"/>
<circle cx="229.0" cy="178.0" r="2.45"/>
<polygon points="242.00,185.30 243.17,187.43 245.30,188.60 243.17,189.77 242.00,191.90 240.83,189.77 238.70,188.60 240.83,187.43"/>
<circle cx="249.8" cy="185.8" r="2.45"/>
<circle cx="263.4" cy="189.3" r="2.45"/>
<polygon points="434.90,56.10 436.07,58.23 438.20,59.40 436.07,60.57 434.90,62.70 433.73,60.57 431.60,59.40 433.73,58.23"/>
<path d="M450.0,58.9 L452.6,62.2 L450.0,65.5 L447.4,62.2Z"/>
<circle cx="454.7" cy="48.1" r="2.45"/>
<polygon points="484.70,143.20 485.87,145.33 488.00,146.50 485.87,147.67 484.70,149.80 483.53,147.67 481.40,146.50 483.53,145.33"/>
<path d="M529.8,169.4 L532.4,172.7 L529.8,176.0 L527.1,172.7Z"/>
<circle cx="537.6" cy="176.5" r="2.45"/>
<path d="M549.7,175.9 L552.4,179.2 L549.7,182.5 L547.1,179.2Z"/>
<polygon points="556.20,175.90 557.37,178.03 559.50,179.20 557.37,180.37 556.20,182.50 555.03,180.37 552.90,179.20 555.03,178.03"/>
</g>
<path d="M24.7,11.4 H53.0 M381.8,10.4 H410.5" stroke="#000" stroke-width="1.25"/>
<g fill="#000">
<circle cx="187.0" cy="12.0" r="2.75"/>
<path d="M186.8,26.2 L189.5,29.7 L186.8,33.2 L184.1,29.7Z"/>
<polygon points="187.60,43.40 188.63,45.88 191.31,46.09 189.26,47.84 189.89,50.46 187.60,49.05 185.31,50.46 185.94,47.84 183.89,46.09 186.57,45.88"/>
<polygon points="187.40,60.70 188.67,63.13 191.10,64.40 188.67,65.67 187.40,68.10 186.13,65.67 183.70,64.40 186.13,63.13"/>
<path d="M188.00,84.90 L188.00,78.30 M185.14,83.25 L190.86,79.95 M185.14,79.95 L190.86,83.25 " stroke="#000" stroke-width="1.6" stroke-linecap="round" fill="none"/>
<circle cx="543.3" cy="11.0" r="2.75"/>
<path d="M542.9,25.1 L545.6,28.6 L542.9,32.1 L540.2,28.6Z"/>
<polygon points="543.20,42.50 544.47,44.93 546.90,46.20 544.47,47.47 543.20,49.90 541.93,47.47 539.50,46.20 541.93,44.93"/>
</g>
<g font-family="'Liberation Serif', 'DejaVu Serif', serif" fill="#000" stroke="#000" stroke-width="0.25">
<text x="56.1" y="15.35" font-size="12.3" stroke-width="0.1" textLength="15.8" lengthAdjust="spacingAndGlyphs">FA</text>
<text x="413.0" y="14.65" font-size="12.6" stroke-width="0.1" textLength="21.1" lengthAdjust="spacingAndGlyphs">MK</text>
<text x="194.6" y="15.6" font-size="11.9" stroke-width="0.1" textLength="102.4" lengthAdjust="spacingAndGlyphs">Mullite Al<tspan dy="3.3" font-size="8.3">2</tspan><tspan dy="-3.3">&#8203;</tspan>O<tspan dy="3.3" font-size="8.3">3</tspan><tspan dy="-3.3">&#8203;</tspan>·2SiO<tspan dy="3.3" font-size="8.3">2</tspan><tspan dy="-3.3">&#8203;</tspan></text>
<text x="193.1" y="33.2" font-size="11.9" stroke-width="0.1" textLength="122.2" lengthAdjust="spacingAndGlyphs">Brushite Ca<tspan dy="3.3" font-size="8.3">3</tspan><tspan dy="-3.3">&#8203;</tspan>(PO<tspan dy="3.3" font-size="8.3">4</tspan><tspan dy="-3.3">&#8203;</tspan>)<tspan dy="3.3" font-size="8.3">3</tspan><tspan dy="-3.3">&#8203;</tspan>(OH)</text>
<text x="195.1" y="50.3" font-size="11.9" stroke-width="0.1" textLength="73.0" lengthAdjust="spacingAndGlyphs">Calcite CaCO<tspan dy="3.3" font-size="8.3">3</tspan><tspan dy="-3.3">&#8203;</tspan></text>
<text x="195.1" y="67.9" font-size="11.9" stroke-width="0.1" textLength="60.4" lengthAdjust="spacingAndGlyphs">Quartz SiO<tspan dy="3.3" font-size="8.3">2</tspan><tspan dy="-3.3">&#8203;</tspan></text>
<text x="195.9" y="85.2" font-size="11.9" stroke-width="0.1" textLength="102.3" lengthAdjust="spacingAndGlyphs">Dolomite CaMgCO<tspan dy="3.3" font-size="8.3">3</tspan><tspan dy="-3.3">&#8203;</tspan></text>
<text x="550.2" y="14.6" font-size="11.9" stroke-width="0.1" textLength="64.1" lengthAdjust="spacingAndGlyphs">Quartz&#160; SiO<tspan dy="3.3" font-size="8.3">2</tspan><tspan dy="-3.3">&#8203;</tspan></text>
<text x="549.5" y="32.2" font-size="11.9" stroke-width="0.1" textLength="67.3" lengthAdjust="spacingAndGlyphs">Anatase TiO<tspan dy="3.3" font-size="8.3">2</tspan><tspan dy="-3.3">&#8203;</tspan></text>
<text x="548.2" y="49.5" font-size="11.9" stroke-width="0.1" textLength="125.0" lengthAdjust="spacingAndGlyphs">Potash feldspar K(Si<tspan dy="3.3" font-size="8.3">3</tspan><tspan dy="-3.3">&#8203;</tspan>O<tspan dy="3.3" font-size="8.3">8</tspan><tspan dy="-3.3">&#8203;</tspan>)</text>
<text x="32.0" y="250.4" font-size="14.4" font-weight="bold" textLength="15.8" lengthAdjust="spacingAndGlyphs">10</text>
<text x="388.9" y="253.8" font-size="14.4" font-weight="bold" textLength="15.8" lengthAdjust="spacingAndGlyphs">10</text>
<text x="66.9" y="250.4" font-size="14.4" font-weight="bold" textLength="15.8" lengthAdjust="spacingAndGlyphs">20</text>
<text x="424.0" y="253.8" font-size="14.4" font-weight="bold" textLength="15.8" lengthAdjust="spacingAndGlyphs">20</text>
<text x="101.8" y="250.4" font-size="14.4" font-weight="bold" textLength="15.8" lengthAdjust="spacingAndGlyphs">30</text>
<text x="459.1" y="253.8" font-size="14.4" font-weight="bold" textLength="15.8" lengthAdjust="spacingAndGlyphs">30</text>
<text x="136.7" y="250.4" font-size="14.4" font-weight="bold" textLength="15.8" lengthAdjust="spacingAndGlyphs">40</text>
<text x="494.3" y="253.8" font-size="14.4" font-weight="bold" textLength="15.8" lengthAdjust="spacingAndGlyphs">40</text>
<text x="171.6" y="250.4" font-size="14.4" font-weight="bold" textLength="15.8" lengthAdjust="spacingAndGlyphs">50</text>
<text x="529.4" y="253.8" font-size="14.4" font-weight="bold" textLength="15.8" lengthAdjust="spacingAndGlyphs">50</text>
<text x="206.5" y="250.4" font-size="14.4" font-weight="bold" textLength="15.8" lengthAdjust="spacingAndGlyphs">60</text>
<text x="564.5" y="253.8" font-size="14.4" font-weight="bold" textLength="15.8" lengthAdjust="spacingAndGlyphs">60</text>
<text x="241.5" y="250.4" font-size="14.4" font-weight="bold" textLength="15.8" lengthAdjust="spacingAndGlyphs">70</text>
<text x="599.6" y="253.8" font-size="14.4" font-weight="bold" textLength="15.8" lengthAdjust="spacingAndGlyphs">70</text>
<text x="276.4" y="250.4" font-size="14.4" font-weight="bold" textLength="15.8" lengthAdjust="spacingAndGlyphs">80</text>
<text x="634.8" y="253.8" font-size="14.4" font-weight="bold" textLength="15.8" lengthAdjust="spacingAndGlyphs">80</text>
<text x="311.3" y="250.4" font-size="14.4" font-weight="bold" textLength="15.8" lengthAdjust="spacingAndGlyphs">90</text>
<text x="669.9" y="253.8" font-size="14.4" font-weight="bold" textLength="15.8" lengthAdjust="spacingAndGlyphs">90</text>
<text x="115.2" y="274.7" font-size="14.4" font-weight="bold" textLength="110.6" lengthAdjust="spacingAndGlyphs">2 Theta (degree)</text>
<text x="472.7" y="279" font-size="14.4" font-weight="bold" textLength="111.1" lengthAdjust="spacingAndGlyphs">2 Theta (degree)</text>
<text x="159" y="306.7" font-size="15.3" text-anchor="middle" stroke-width="0.1">(a)FA</text>
<text x="519.6" y="306.7" font-size="15" text-anchor="middle" stroke-width="0.1">(b)MK</text>
<text transform="translate(11.1,162.6) rotate(-90)" font-size="15.7" font-weight="bold" textLength="94" lengthAdjust="spacingAndGlyphs">Intensity (a.u.)</text>
<text transform="translate(367.6,165.6) rotate(-90)" font-size="16.2" font-weight="bold" textLength="96.3" lengthAdjust="spacingAndGlyphs">Intensity (a.u.)</text>
</g>
</svg>
</body></html>
